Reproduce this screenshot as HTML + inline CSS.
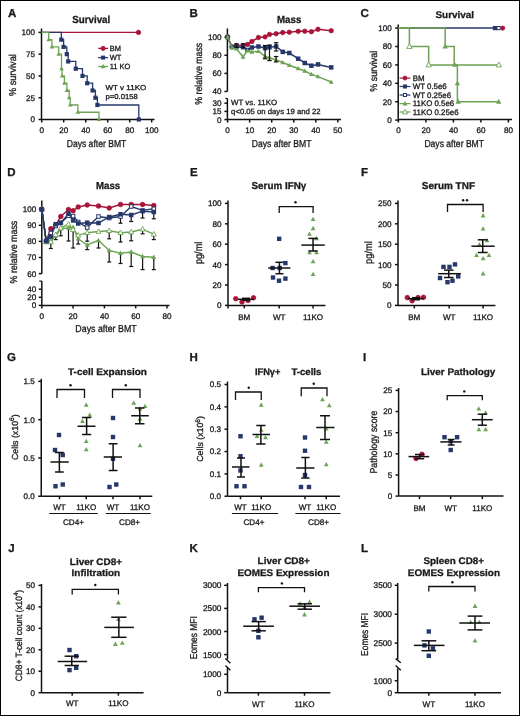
<!DOCTYPE html><html><head><meta charset="utf-8"><style>html,body{margin:0;padding:0;background:#fff;}svg{display:block;will-change:transform;font-family:"Liberation Sans",sans-serif;} text{text-rendering:geometricPrecision;stroke:#1a1a1a;stroke-width:0.3px;}</style></head><body>
<svg width="520" height="716" viewBox="0 0 520 716">
<rect x="0" y="0" width="520" height="716" fill="#fff"/>
<rect x="0.5" y="0.5" width="519" height="715" fill="none" stroke="#000" stroke-width="1"/>
<text x="7.9" y="17.2" font-size="11.5" text-anchor="start" fill="#1a1a1a" font-weight="bold">A</text>
<text x="72.2" y="22.6" font-size="10.3" text-anchor="start" fill="#1a1a1a" font-weight="bold" textLength="38.1" lengthAdjust="spacingAndGlyphs">Survival</text>
<line x1="41.5" y1="28.5" x2="41.5" y2="119.5" stroke="#111" stroke-width="1.5"/>
<line x1="38.5" y1="32.4" x2="41.5" y2="32.4" stroke="#111" stroke-width="1.5"/>
<text x="35.1" y="35.315999999999995" font-size="8.1" text-anchor="end" fill="#1a1a1a">100</text>
<line x1="38.5" y1="54.175" x2="41.5" y2="54.175" stroke="#111" stroke-width="1.5"/>
<text x="35.1" y="57.090999999999994" font-size="8.1" text-anchor="end" fill="#1a1a1a">75</text>
<line x1="38.5" y1="75.94999999999999" x2="41.5" y2="75.94999999999999" stroke="#111" stroke-width="1.5"/>
<text x="35.1" y="78.86599999999999" font-size="8.1" text-anchor="end" fill="#1a1a1a">50</text>
<line x1="38.5" y1="97.725" x2="41.5" y2="97.725" stroke="#111" stroke-width="1.5"/>
<text x="35.1" y="100.64099999999999" font-size="8.1" text-anchor="end" fill="#1a1a1a">25</text>
<line x1="38.5" y1="119.5" x2="41.5" y2="119.5" stroke="#111" stroke-width="1.5"/>
<text x="35.1" y="122.416" font-size="8.1" text-anchor="end" fill="#1a1a1a">0</text>
<line x1="41.5" y1="119.5" x2="154.5" y2="119.5" stroke="#111" stroke-width="1.5"/>
<line x1="41.7" y1="119.5" x2="41.7" y2="122.5" stroke="#111" stroke-width="1.5"/>
<text x="41.7" y="133.2" font-size="8.1" text-anchor="middle" fill="#1a1a1a">0</text>
<line x1="63.7" y1="119.5" x2="63.7" y2="122.5" stroke="#111" stroke-width="1.5"/>
<text x="63.7" y="133.2" font-size="8.1" text-anchor="middle" fill="#1a1a1a">20</text>
<line x1="85.7" y1="119.5" x2="85.7" y2="122.5" stroke="#111" stroke-width="1.5"/>
<text x="85.7" y="133.2" font-size="8.1" text-anchor="middle" fill="#1a1a1a">40</text>
<line x1="107.7" y1="119.5" x2="107.7" y2="122.5" stroke="#111" stroke-width="1.5"/>
<text x="107.7" y="133.2" font-size="8.1" text-anchor="middle" fill="#1a1a1a">60</text>
<line x1="129.7" y1="119.5" x2="129.7" y2="122.5" stroke="#111" stroke-width="1.5"/>
<text x="129.7" y="133.2" font-size="8.1" text-anchor="middle" fill="#1a1a1a">80</text>
<line x1="151.7" y1="119.5" x2="151.7" y2="122.5" stroke="#111" stroke-width="1.5"/>
<text x="151.7" y="133.2" font-size="8.1" text-anchor="middle" fill="#1a1a1a">100</text>
<text transform="translate(15.9,75.15) rotate(-90)" font-size="10" text-anchor="middle" fill="#1a1a1a" textLength="41.9" lengthAdjust="spacingAndGlyphs">% survival</text>
<text x="96.5" y="146.6" font-size="10.1" text-anchor="middle" fill="#1a1a1a" textLength="59.6" lengthAdjust="spacingAndGlyphs">Days after BMT</text>
<polyline points="41.5,32.4 138.5,32.4" fill="none" stroke="#a81538" stroke-width="1.3" stroke-linejoin="miter"/>
<circle cx="138.5" cy="32.4" r="2.2" fill="#a81538" stroke="#a81538" stroke-width="0.8"/>
<polyline points="41.5,32.4 61.3,32.4 61.3,39.655429999999996 63.6,39.655429999999996 63.6,46.91957 66.8,46.91957 66.8,54.175 68.2,54.175 68.2,61.43043 75.8,61.43043 75.8,68.69457 82.5,68.69457 82.5,75.94999999999999 87.2,75.94999999999999 87.2,83.20543 92.6,83.20543 92.6,90.46957 95.4,90.46957 95.4,97.725 97.4,97.725 97.4,104.98042999999998 138.8,104.98042999999998 138.8,119.5" fill="none" stroke="#26386b" stroke-width="1.3" stroke-linejoin="miter"/>
<rect x="59.199999999999996" y="37.555429999999994" width="4.2" height="4.2" fill="#26386b"/>
<rect x="61.5" y="44.81957" width="4.2" height="4.2" fill="#26386b"/>
<rect x="64.7" y="52.074999999999996" width="4.2" height="4.2" fill="#26386b"/>
<rect x="66.10000000000001" y="59.33043" width="4.2" height="4.2" fill="#26386b"/>
<rect x="73.7" y="66.59457" width="4.2" height="4.2" fill="#26386b"/>
<rect x="80.4" y="73.85" width="4.2" height="4.2" fill="#26386b"/>
<rect x="85.10000000000001" y="81.10543000000001" width="4.2" height="4.2" fill="#26386b"/>
<rect x="90.5" y="88.36957000000001" width="4.2" height="4.2" fill="#26386b"/>
<rect x="93.30000000000001" y="95.625" width="4.2" height="4.2" fill="#26386b"/>
<rect x="95.30000000000001" y="102.88042999999999" width="4.2" height="4.2" fill="#26386b"/>
<rect x="136.70000000000002" y="117.4" width="4.2" height="4.2" fill="#26386b"/>
<polyline points="41.5,32.4 48.7,32.4 48.7,39.655429999999996 51.9,39.655429999999996 51.9,46.91957 58.7,46.91957 58.7,54.175 61.5,54.175 61.5,68.69457 62.1,68.69457 62.1,75.94999999999999 64.4,75.94999999999999 64.4,83.20543 66.9,83.20543 66.9,90.46957 69.2,90.46957 69.2,97.725 70.2,97.725 70.2,104.98042999999998 77.9,104.98042999999998 77.9,112.24457000000001 99.0,112.24457000000001 99.0,119.5" fill="none" stroke="#6da353" stroke-width="1.3" stroke-linejoin="miter"/>
<polygon points="48.7,37.225429999999996 46.45,41.27542999999999 50.95,41.27542999999999" fill="#6da353"/>
<polygon points="51.9,44.48957 49.65,48.53957 54.15,48.53957" fill="#6da353"/>
<polygon points="58.7,51.745 56.45,55.794999999999995 60.95,55.794999999999995" fill="#6da353"/>
<polygon points="61.5,66.26456999999999 59.25,70.31457 63.75,70.31457" fill="#6da353"/>
<polygon points="62.1,73.51999999999998 59.85,77.57 64.35,77.57" fill="#6da353"/>
<polygon points="64.4,80.77543 62.150000000000006,84.82543000000001 66.65,84.82543000000001" fill="#6da353"/>
<polygon points="66.9,88.03957 64.65,92.08957000000001 69.15,92.08957000000001" fill="#6da353"/>
<polygon points="69.2,95.29499999999999 66.95,99.345 71.45,99.345" fill="#6da353"/>
<polygon points="70.2,102.55042999999998 67.95,106.60042999999999 72.45,106.60042999999999" fill="#6da353"/>
<polygon points="77.9,109.81457 75.65,113.86457000000001 80.15,113.86457000000001" fill="#6da353"/>
<polygon points="99.0,117.07 96.75,121.12 101.25,121.12" fill="#6da353"/>
<line x1="98.2" y1="48.4" x2="108" y2="48.4" stroke="#a81538" stroke-width="1.3"/>
<circle cx="103.1" cy="48.4" r="2.1" fill="#a81538" stroke="#a81538" stroke-width="0.8"/>
<text x="109.7" y="51.1" font-size="7.5" text-anchor="start" fill="#1a1a1a">BM</text>
<line x1="98.2" y1="57.6" x2="108" y2="57.6" stroke="#26386b" stroke-width="1.3"/>
<rect x="101.1" y="55.6" width="4.0" height="4.0" fill="#26386b"/>
<text x="109.7" y="60.300000000000004" font-size="7.5" text-anchor="start" fill="#1a1a1a">WT</text>
<line x1="98.2" y1="66.5" x2="108" y2="66.5" stroke="#6da353" stroke-width="1.3"/>
<polygon points="103.1,64.016 100.8,68.156 105.39999999999999,68.156" fill="#6da353"/>
<text x="109.7" y="69.2" font-size="7.5" text-anchor="start" fill="#1a1a1a">11 KO</text>
<text x="105.5" y="90.4" font-size="7.2" text-anchor="start" fill="#1a1a1a" textLength="40.8" lengthAdjust="spacingAndGlyphs">WT v 11KO</text>
<text x="105.5" y="98.8" font-size="7.2" text-anchor="start" fill="#1a1a1a" textLength="32.2" lengthAdjust="spacingAndGlyphs">p=0.0158</text>
<text x="189.6" y="17.0" font-size="11.5" text-anchor="start" fill="#1a1a1a" font-weight="bold">B</text>
<text x="277" y="22.9" font-size="10.3" text-anchor="start" fill="#1a1a1a" font-weight="bold" textLength="24.3" lengthAdjust="spacingAndGlyphs">Mass</text>
<line x1="227.4" y1="28.5" x2="227.4" y2="91.5" stroke="#111" stroke-width="1.5"/>
<line x1="224.4" y1="37.2" x2="227.4" y2="37.2" stroke="#111" stroke-width="1.5"/>
<text x="221.6" y="40.1" font-size="8.1" text-anchor="end" fill="#1a1a1a">100</text>
<line x1="224.4" y1="55.300000000000004" x2="227.4" y2="55.300000000000004" stroke="#111" stroke-width="1.5"/>
<text x="221.6" y="58.2" font-size="8.1" text-anchor="end" fill="#1a1a1a">80</text>
<line x1="224.4" y1="73.4" x2="227.4" y2="73.4" stroke="#111" stroke-width="1.5"/>
<text x="221.6" y="76.30000000000001" font-size="8.1" text-anchor="end" fill="#1a1a1a">60</text>
<line x1="224.4" y1="91.5" x2="227.4" y2="91.5" stroke="#111" stroke-width="1.5"/>
<text x="221.6" y="94.4" font-size="8.1" text-anchor="end" fill="#1a1a1a">40</text>
<line x1="227.4" y1="98.4" x2="227.4" y2="119.6" stroke="#111" stroke-width="1.5"/>
<line x1="225.4" y1="98.4" x2="227.4" y2="98.4" stroke="#111" stroke-width="1.2"/>
<line x1="224.4" y1="103.19" x2="227.4" y2="103.19" stroke="#111" stroke-width="1.5"/>
<text x="221.6" y="106.09" font-size="8.1" text-anchor="end" fill="#1a1a1a">30</text>
<line x1="224.4" y1="111.395" x2="227.4" y2="111.395" stroke="#111" stroke-width="1.5"/>
<text x="221.6" y="114.295" font-size="8.1" text-anchor="end" fill="#1a1a1a">15</text>
<line x1="224.4" y1="119.6" x2="227.4" y2="119.6" stroke="#111" stroke-width="1.5"/>
<text x="221.6" y="122.5" font-size="8.1" text-anchor="end" fill="#1a1a1a">0</text>
<line x1="227.4" y1="119.6" x2="341" y2="119.6" stroke="#111" stroke-width="1.5"/>
<line x1="227.6" y1="119.6" x2="227.6" y2="122.6" stroke="#111" stroke-width="1.5"/>
<text x="227.6" y="133.2" font-size="8.1" text-anchor="middle" fill="#1a1a1a">0</text>
<line x1="249.65" y1="119.6" x2="249.65" y2="122.6" stroke="#111" stroke-width="1.5"/>
<text x="249.65" y="133.2" font-size="8.1" text-anchor="middle" fill="#1a1a1a">10</text>
<line x1="271.7" y1="119.6" x2="271.7" y2="122.6" stroke="#111" stroke-width="1.5"/>
<text x="271.7" y="133.2" font-size="8.1" text-anchor="middle" fill="#1a1a1a">20</text>
<line x1="293.75" y1="119.6" x2="293.75" y2="122.6" stroke="#111" stroke-width="1.5"/>
<text x="293.75" y="133.2" font-size="8.1" text-anchor="middle" fill="#1a1a1a">30</text>
<line x1="315.8" y1="119.6" x2="315.8" y2="122.6" stroke="#111" stroke-width="1.5"/>
<text x="315.8" y="133.2" font-size="8.1" text-anchor="middle" fill="#1a1a1a">40</text>
<line x1="337.85" y1="119.6" x2="337.85" y2="122.6" stroke="#111" stroke-width="1.5"/>
<text x="337.85" y="133.2" font-size="8.1" text-anchor="middle" fill="#1a1a1a">50</text>
<text transform="translate(202.3,73.75) rotate(-90)" font-size="10" text-anchor="middle" fill="#1a1a1a" textLength="61.9" lengthAdjust="spacingAndGlyphs">% relative mass</text>
<text x="281.6" y="147" font-size="10.1" text-anchor="middle" fill="#1a1a1a" textLength="59.6" lengthAdjust="spacingAndGlyphs">Days after BMT</text>
<text x="231.1" y="105.3" font-size="7.6" text-anchor="start" fill="#1a1a1a" textLength="46" lengthAdjust="spacingAndGlyphs">WT vs. 11KO</text>
<text x="231.1" y="113.9" font-size="7.6" text-anchor="start" fill="#1a1a1a" textLength="89.4" lengthAdjust="spacingAndGlyphs">q&lt;0.05 on days 19 and 22</text>
<polyline points="227.6,37.1 232.01,47.0 236.42,45.6 243.035,45.6 247.445,44.4 251.855,41.5 258.46999999999997,37.5 265.085,36.9 269.495,34.4 276.11,33.75 282.725,32.5 289.34,32.2 298.15999999999997,31.3 304.775,31.2 311.39,31.7 318.005,29.3 331.235,30.7" fill="none" stroke="#a81538" stroke-width="1.5" stroke-linejoin="miter"/>
<circle cx="227.6" cy="37.1" r="2.2" fill="#a81538" stroke="#a81538" stroke-width="0.8"/>
<circle cx="232.01" cy="47.0" r="2.2" fill="#a81538" stroke="#a81538" stroke-width="0.8"/>
<circle cx="236.42" cy="45.6" r="2.2" fill="#a81538" stroke="#a81538" stroke-width="0.8"/>
<circle cx="243.035" cy="45.6" r="2.2" fill="#a81538" stroke="#a81538" stroke-width="0.8"/>
<circle cx="247.445" cy="44.4" r="2.2" fill="#a81538" stroke="#a81538" stroke-width="0.8"/>
<circle cx="251.855" cy="41.5" r="2.2" fill="#a81538" stroke="#a81538" stroke-width="0.8"/>
<circle cx="258.46999999999997" cy="37.5" r="2.2" fill="#a81538" stroke="#a81538" stroke-width="0.8"/>
<circle cx="265.085" cy="36.9" r="2.2" fill="#a81538" stroke="#a81538" stroke-width="0.8"/>
<circle cx="269.495" cy="34.4" r="2.2" fill="#a81538" stroke="#a81538" stroke-width="0.8"/>
<circle cx="276.11" cy="33.75" r="2.2" fill="#a81538" stroke="#a81538" stroke-width="0.8"/>
<circle cx="282.725" cy="32.5" r="2.2" fill="#a81538" stroke="#a81538" stroke-width="0.8"/>
<circle cx="289.34" cy="32.2" r="2.2" fill="#a81538" stroke="#a81538" stroke-width="0.8"/>
<circle cx="298.15999999999997" cy="31.3" r="2.2" fill="#a81538" stroke="#a81538" stroke-width="0.8"/>
<circle cx="304.775" cy="31.2" r="2.2" fill="#a81538" stroke="#a81538" stroke-width="0.8"/>
<circle cx="311.39" cy="31.7" r="2.2" fill="#a81538" stroke="#a81538" stroke-width="0.8"/>
<circle cx="318.005" cy="29.3" r="2.2" fill="#a81538" stroke="#a81538" stroke-width="0.8"/>
<circle cx="331.235" cy="30.7" r="2.2" fill="#a81538" stroke="#a81538" stroke-width="0.8"/>
<polyline points="227.6,37.1 232.01,46.9 236.42,47.0 243.035,47.2 247.445,50.0 251.855,47.5 258.46999999999997,46.5 265.085,48.1 269.495,47.25 276.11,46.5 282.725,51.9 289.34,53.0 298.15999999999997,58.7 304.775,63.0 311.39,65.7 318.005,64.4 331.235,67.4" fill="none" stroke="#26386b" stroke-width="1.5" stroke-linejoin="miter"/>
<rect x="225.35" y="34.85" width="4.5" height="4.5" fill="#26386b"/>
<rect x="229.76" y="44.65" width="4.5" height="4.5" fill="#26386b"/>
<rect x="234.17" y="44.75" width="4.5" height="4.5" fill="#26386b"/>
<rect x="240.785" y="44.95" width="4.5" height="4.5" fill="#26386b"/>
<rect x="245.195" y="47.75" width="4.5" height="4.5" fill="#26386b"/>
<rect x="249.605" y="45.25" width="4.5" height="4.5" fill="#26386b"/>
<rect x="256.21999999999997" y="44.25" width="4.5" height="4.5" fill="#26386b"/>
<rect x="262.835" y="45.85" width="4.5" height="4.5" fill="#26386b"/>
<rect x="267.245" y="45.0" width="4.5" height="4.5" fill="#26386b"/>
<rect x="273.86" y="44.25" width="4.5" height="4.5" fill="#26386b"/>
<rect x="280.475" y="49.65" width="4.5" height="4.5" fill="#26386b"/>
<rect x="287.09" y="50.75" width="4.5" height="4.5" fill="#26386b"/>
<rect x="295.90999999999997" y="56.45" width="4.5" height="4.5" fill="#26386b"/>
<rect x="302.525" y="60.75" width="4.5" height="4.5" fill="#26386b"/>
<rect x="309.14" y="63.45" width="4.5" height="4.5" fill="#26386b"/>
<rect x="315.755" y="62.150000000000006" width="4.5" height="4.5" fill="#26386b"/>
<rect x="328.985" y="65.15" width="4.5" height="4.5" fill="#26386b"/>
<polyline points="227.6,37.1 232.01,47.5 236.42,48.75 243.035,56.9 247.445,50.6 251.855,51.9 258.46999999999997,51.25 265.085,56.25 269.495,57.75 276.11,60.0 282.725,62.5 289.34,65.3 298.15999999999997,68.5 304.775,71.0 311.39,74.3 318.005,76.6 331.235,82.0" fill="none" stroke="#6da353" stroke-width="1.5" stroke-linejoin="miter"/>
<polygon points="227.6,34.508 225.2,38.828 230.0,38.828" fill="#6da353"/>
<polygon points="232.01,44.908 229.60999999999999,49.228 234.41,49.228" fill="#6da353"/>
<polygon points="236.42,46.158 234.01999999999998,50.478 238.82,50.478" fill="#6da353"/>
<polygon points="243.035,54.308 240.635,58.628 245.435,58.628" fill="#6da353"/>
<polygon points="247.445,48.008 245.045,52.328 249.845,52.328" fill="#6da353"/>
<polygon points="251.855,49.308 249.45499999999998,53.628 254.255,53.628" fill="#6da353"/>
<polygon points="258.46999999999997,48.658 256.07,52.978 260.86999999999995,52.978" fill="#6da353"/>
<polygon points="265.085,53.658 262.685,57.978 267.48499999999996,57.978" fill="#6da353"/>
<polygon points="269.495,55.158 267.095,59.478 271.895,59.478" fill="#6da353"/>
<polygon points="276.11,57.408 273.71000000000004,61.728 278.51,61.728" fill="#6da353"/>
<polygon points="282.725,59.908 280.32500000000005,64.228 285.125,64.228" fill="#6da353"/>
<polygon points="289.34,62.708 286.94,67.02799999999999 291.73999999999995,67.02799999999999" fill="#6da353"/>
<polygon points="298.15999999999997,65.908 295.76,70.228 300.55999999999995,70.228" fill="#6da353"/>
<polygon points="304.775,68.408 302.375,72.728 307.17499999999995,72.728" fill="#6da353"/>
<polygon points="311.39,71.708 308.99,76.02799999999999 313.78999999999996,76.02799999999999" fill="#6da353"/>
<polygon points="318.005,74.008 315.605,78.32799999999999 320.405,78.32799999999999" fill="#6da353"/>
<polygon points="331.235,79.408 328.83500000000004,83.728 333.635,83.728" fill="#6da353"/>
<line x1="236.42" y1="43.75" x2="236.42" y2="47.5" stroke="#111" stroke-width="1.1"/>
<line x1="234.22" y1="43.75" x2="238.61999999999998" y2="43.75" stroke="#111" stroke-width="1.1"/>
<line x1="234.22" y1="47.5" x2="238.61999999999998" y2="47.5" stroke="#111" stroke-width="1.1"/>
<line x1="243.035" y1="43.75" x2="243.035" y2="47.5" stroke="#111" stroke-width="1.1"/>
<line x1="240.835" y1="43.75" x2="245.23499999999999" y2="43.75" stroke="#111" stroke-width="1.1"/>
<line x1="240.835" y1="47.5" x2="245.23499999999999" y2="47.5" stroke="#111" stroke-width="1.1"/>
<line x1="265.085" y1="45.5" x2="265.085" y2="58.75" stroke="#111" stroke-width="1.2"/>
<line x1="262.885" y1="45.5" x2="267.28499999999997" y2="45.5" stroke="#111" stroke-width="1.2"/>
<line x1="262.885" y1="58.75" x2="267.28499999999997" y2="58.75" stroke="#111" stroke-width="1.2"/>
<line x1="269.495" y1="45.0" x2="269.495" y2="60.6" stroke="#111" stroke-width="1.2"/>
<line x1="267.295" y1="45.0" x2="271.695" y2="45.0" stroke="#111" stroke-width="1.2"/>
<line x1="267.295" y1="60.6" x2="271.695" y2="60.6" stroke="#111" stroke-width="1.2"/>
<line x1="276.11" y1="42.75" x2="276.11" y2="51.0" stroke="#111" stroke-width="1.2"/>
<line x1="273.91" y1="42.75" x2="278.31" y2="42.75" stroke="#111" stroke-width="1.2"/>
<line x1="273.91" y1="51.0" x2="278.31" y2="51.0" stroke="#111" stroke-width="1.2"/>
<line x1="276.11" y1="56.5" x2="276.11" y2="61.9" stroke="#111" stroke-width="1.2"/>
<line x1="273.91" y1="56.5" x2="278.31" y2="56.5" stroke="#111" stroke-width="1.2"/>
<line x1="273.91" y1="61.9" x2="278.31" y2="61.9" stroke="#111" stroke-width="1.2"/>
<text x="360.5" y="17.2" font-size="11.5" text-anchor="start" fill="#1a1a1a" font-weight="bold">C</text>
<text x="435.5" y="17.8" font-size="9.6" text-anchor="start" fill="#1a1a1a" font-weight="bold" textLength="38.6" lengthAdjust="spacingAndGlyphs">Survival</text>
<line x1="398.2" y1="24.5" x2="398.2" y2="119.5" stroke="#111" stroke-width="1.5"/>
<line x1="395.2" y1="28.1" x2="398.2" y2="28.1" stroke="#111" stroke-width="1.5"/>
<text x="391.8" y="31.016000000000002" font-size="8.1" text-anchor="end" fill="#1a1a1a">100</text>
<line x1="395.2" y1="46.5" x2="398.2" y2="46.5" stroke="#111" stroke-width="1.5"/>
<text x="391.8" y="49.416" font-size="8.1" text-anchor="end" fill="#1a1a1a">80</text>
<line x1="395.2" y1="64.9" x2="398.2" y2="64.9" stroke="#111" stroke-width="1.5"/>
<text x="391.8" y="67.816" font-size="8.1" text-anchor="end" fill="#1a1a1a">60</text>
<line x1="395.2" y1="83.30000000000001" x2="398.2" y2="83.30000000000001" stroke="#111" stroke-width="1.5"/>
<text x="391.8" y="86.21600000000001" font-size="8.1" text-anchor="end" fill="#1a1a1a">40</text>
<line x1="395.2" y1="101.70000000000002" x2="398.2" y2="101.70000000000002" stroke="#111" stroke-width="1.5"/>
<text x="391.8" y="104.61600000000001" font-size="8.1" text-anchor="end" fill="#1a1a1a">20</text>
<line x1="395.2" y1="120.1" x2="398.2" y2="120.1" stroke="#111" stroke-width="1.5"/>
<text x="391.8" y="123.01599999999999" font-size="8.1" text-anchor="end" fill="#1a1a1a">0</text>
<line x1="398.2" y1="119.5" x2="512" y2="119.5" stroke="#111" stroke-width="1.5"/>
<line x1="398.4" y1="119.5" x2="398.4" y2="122.5" stroke="#111" stroke-width="1.5"/>
<text x="398.4" y="133.4" font-size="8.1" text-anchor="middle" fill="#1a1a1a">0</text>
<line x1="425.9" y1="119.5" x2="425.9" y2="122.5" stroke="#111" stroke-width="1.5"/>
<text x="425.9" y="133.4" font-size="8.1" text-anchor="middle" fill="#1a1a1a">20</text>
<line x1="453.4" y1="119.5" x2="453.4" y2="122.5" stroke="#111" stroke-width="1.5"/>
<text x="453.4" y="133.4" font-size="8.1" text-anchor="middle" fill="#1a1a1a">40</text>
<line x1="480.9" y1="119.5" x2="480.9" y2="122.5" stroke="#111" stroke-width="1.5"/>
<text x="480.9" y="133.4" font-size="8.1" text-anchor="middle" fill="#1a1a1a">60</text>
<line x1="508.4" y1="119.5" x2="508.4" y2="122.5" stroke="#111" stroke-width="1.5"/>
<text x="508.4" y="133.4" font-size="8.1" text-anchor="middle" fill="#1a1a1a">80</text>
<text transform="translate(377.4,71.3) rotate(-90)" font-size="10" text-anchor="middle" fill="#1a1a1a" textLength="41" lengthAdjust="spacingAndGlyphs">% survival</text>
<text x="454.2" y="147.2" font-size="10.1" text-anchor="middle" fill="#1a1a1a" textLength="59.6" lengthAdjust="spacingAndGlyphs">Days after BMT</text>
<polyline points="398.2,28.1 494.9,28.1" fill="none" stroke="#26386b" stroke-width="1.5" stroke-linejoin="miter"/>
<polyline points="398.2,28.1 409.4,28.1 409.4,46.5 428.65,46.5 428.65,64.9 498.775,64.9" fill="none" stroke="#6da353" stroke-width="1.5" stroke-linejoin="miter"/>
<polyline points="398.2,28.1 445.15,28.1 445.15,46.5 454.22499999999997,46.5 454.22499999999997,64.9 457.3875,64.9 457.3875,101.70000000000002 498.775,101.70000000000002" fill="none" stroke="#6da353" stroke-width="1.5" stroke-linejoin="miter"/>
<polygon points="409.4,43.584 406.7,48.444 412.09999999999997,48.444" fill="#fff" stroke="#6da353" stroke-width="0.9"/>
<polygon points="428.65,61.98400000000001 425.95,66.84400000000001 431.34999999999997,66.84400000000001" fill="#fff" stroke="#6da353" stroke-width="0.9"/>
<polygon points="498.775,61.98400000000001 496.075,66.84400000000001 501.47499999999997,66.84400000000001" fill="#fff" stroke="#6da353" stroke-width="0.9"/>
<polygon points="445.15,43.584 442.45,48.444 447.84999999999997,48.444" fill="#6da353"/>
<polygon points="454.775,61.98400000000001 452.075,66.84400000000001 457.47499999999997,66.84400000000001" fill="#6da353"/>
<polygon points="457.3875,80.38400000000001 454.6875,85.24400000000001 460.0875,85.24400000000001" fill="#6da353"/>
<polygon points="458.2125,98.78400000000002 455.5125,103.64400000000002 460.91249999999997,103.64400000000002" fill="#6da353"/>
<polygon points="498.775,98.78400000000002 496.075,103.64400000000002 501.47499999999997,103.64400000000002" fill="#6da353"/>
<rect x="492.79999999999995" y="26.0" width="4.2" height="4.2" fill="#26386b"/>
<rect x="497.0" y="26.5" width="3.2" height="3.2" fill="#fff" stroke="#26386b" stroke-width="1"/>
<circle cx="502.7" cy="28.1" r="2.1" fill="#a81538" stroke="#a81538" stroke-width="0.8"/>
<line x1="399.6" y1="78.1" x2="410.4" y2="78.1" stroke="#a81538" stroke-width="1.2"/>
<circle cx="405" cy="78.1" r="2.0" fill="#a81538" stroke="#a81538" stroke-width="0.8"/>
<text x="412.7" y="80.69999999999999" font-size="7.9" text-anchor="start" fill="#1a1a1a">BM</text>
<line x1="399.6" y1="86.5" x2="410.4" y2="86.5" stroke="#26386b" stroke-width="1.2"/>
<rect x="403.0" y="84.5" width="4.0" height="4.0" fill="#26386b"/>
<text x="412.7" y="89.1" font-size="7.9" text-anchor="start" fill="#1a1a1a">WT 0.5e6</text>
<line x1="399.6" y1="95.0" x2="410.4" y2="95.0" stroke="#26386b" stroke-width="1.2"/>
<rect x="403.5" y="93.5" width="3.0" height="3.0" fill="#fff" stroke="#26386b" stroke-width="1"/>
<text x="412.7" y="97.6" font-size="7.9" text-anchor="start" fill="#1a1a1a">WT 0.25e6</text>
<line x1="399.6" y1="103.6" x2="410.4" y2="103.6" stroke="#6da353" stroke-width="1.2"/>
<polygon points="405,100.89999999999999 402.5,105.39999999999999 407.5,105.39999999999999" fill="#6da353"/>
<text x="412.7" y="106.19999999999999" font-size="7.9" text-anchor="start" fill="#1a1a1a">11KO 0.5e6</text>
<line x1="399.6" y1="112.0" x2="410.4" y2="112.0" stroke="#6da353" stroke-width="1.2"/>
<polygon points="405,109.3 402.5,113.8 407.5,113.8" fill="#fff" stroke="#6da353" stroke-width="0.9"/>
<text x="412.7" y="114.6" font-size="7.9" text-anchor="start" fill="#1a1a1a">11KO 0.25e6</text>
<text x="7.2" y="175.5" font-size="11.5" text-anchor="start" fill="#1a1a1a" font-weight="bold">D</text>
<text x="96.1" y="189.2" font-size="10.1" text-anchor="start" fill="#1a1a1a" font-weight="bold" textLength="24.1" lengthAdjust="spacingAndGlyphs">Mass</text>
<line x1="41.8" y1="200.4" x2="41.8" y2="273.8" stroke="#111" stroke-width="1.5"/>
<line x1="38.8" y1="209.2" x2="41.8" y2="209.2" stroke="#111" stroke-width="1.5"/>
<text x="36.2" y="212.1" font-size="8.1" text-anchor="end" fill="#1a1a1a">100</text>
<line x1="38.8" y1="225.29999999999998" x2="41.8" y2="225.29999999999998" stroke="#111" stroke-width="1.5"/>
<text x="36.2" y="228.2" font-size="8.1" text-anchor="end" fill="#1a1a1a">90</text>
<line x1="38.8" y1="241.39999999999998" x2="41.8" y2="241.39999999999998" stroke="#111" stroke-width="1.5"/>
<text x="36.2" y="244.29999999999998" font-size="8.1" text-anchor="end" fill="#1a1a1a">80</text>
<line x1="38.8" y1="257.5" x2="41.8" y2="257.5" stroke="#111" stroke-width="1.5"/>
<text x="36.2" y="260.4" font-size="8.1" text-anchor="end" fill="#1a1a1a">70</text>
<line x1="38.8" y1="273.6" x2="41.8" y2="273.6" stroke="#111" stroke-width="1.5"/>
<text x="36.2" y="276.5" font-size="8.1" text-anchor="end" fill="#1a1a1a">60</text>
<line x1="41.8" y1="281.1" x2="41.8" y2="305.4" stroke="#111" stroke-width="1.5"/>
<line x1="39.3" y1="281.1" x2="41.8" y2="281.1" stroke="#111" stroke-width="1.2"/>
<line x1="38.8" y1="289.2" x2="41.8" y2="289.2" stroke="#111" stroke-width="1.5"/>
<text x="36.2" y="292.09999999999997" font-size="8.1" text-anchor="end" fill="#1a1a1a">40</text>
<line x1="38.8" y1="297.29999999999995" x2="41.8" y2="297.29999999999995" stroke="#111" stroke-width="1.5"/>
<text x="36.2" y="300.19999999999993" font-size="8.1" text-anchor="end" fill="#1a1a1a">20</text>
<line x1="38.8" y1="305.4" x2="41.8" y2="305.4" stroke="#111" stroke-width="1.5"/>
<text x="36.2" y="308.29999999999995" font-size="8.1" text-anchor="end" fill="#1a1a1a">0</text>
<line x1="41.8" y1="305.4" x2="169.5" y2="305.4" stroke="#111" stroke-width="1.5"/>
<line x1="41.8" y1="305.4" x2="41.8" y2="308.4" stroke="#111" stroke-width="1.5"/>
<text x="41.8" y="319.1" font-size="8.1" text-anchor="middle" fill="#1a1a1a">0</text>
<line x1="73.1" y1="305.4" x2="73.1" y2="308.4" stroke="#111" stroke-width="1.5"/>
<text x="73.1" y="319.1" font-size="8.1" text-anchor="middle" fill="#1a1a1a">20</text>
<line x1="104.39999999999999" y1="305.4" x2="104.39999999999999" y2="308.4" stroke="#111" stroke-width="1.5"/>
<text x="104.39999999999999" y="319.1" font-size="8.1" text-anchor="middle" fill="#1a1a1a">40</text>
<line x1="135.7" y1="305.4" x2="135.7" y2="308.4" stroke="#111" stroke-width="1.5"/>
<text x="135.7" y="319.1" font-size="8.1" text-anchor="middle" fill="#1a1a1a">60</text>
<line x1="167.0" y1="305.4" x2="167.0" y2="308.4" stroke="#111" stroke-width="1.5"/>
<text x="167.0" y="319.1" font-size="8.1" text-anchor="middle" fill="#1a1a1a">80</text>
<text transform="translate(17.4,252.1) rotate(-90)" font-size="10" text-anchor="middle" fill="#1a1a1a" textLength="62.8" lengthAdjust="spacingAndGlyphs">% relative mass</text>
<text x="106" y="332" font-size="10.1" text-anchor="middle" fill="#1a1a1a" textLength="61.3" lengthAdjust="spacingAndGlyphs">Days after BMT</text>
<line x1="50.8" y1="242" x2="50.8" y2="248.5" stroke="#111" stroke-width="1.2"/>
<line x1="48.8" y1="248.5" x2="52.8" y2="248.5" stroke="#111" stroke-width="1.2"/>
<line x1="55.7" y1="234.7" x2="55.7" y2="239.6" stroke="#111" stroke-width="1.2"/>
<line x1="53.7" y1="239.6" x2="57.7" y2="239.6" stroke="#111" stroke-width="1.2"/>
<line x1="60.8" y1="228" x2="60.8" y2="235.8" stroke="#111" stroke-width="1.2"/>
<line x1="58.8" y1="235.8" x2="62.8" y2="235.8" stroke="#111" stroke-width="1.2"/>
<line x1="68.5" y1="224.2" x2="68.5" y2="241" stroke="#111" stroke-width="1.2"/>
<line x1="66.5" y1="241" x2="70.5" y2="241" stroke="#111" stroke-width="1.2"/>
<line x1="73.1" y1="229.6" x2="73.1" y2="248" stroke="#111" stroke-width="1.2"/>
<line x1="71.1" y1="248" x2="75.1" y2="248" stroke="#111" stroke-width="1.2"/>
<line x1="87.2" y1="232.7" x2="87.2" y2="241.2" stroke="#111" stroke-width="1.2"/>
<line x1="85.2" y1="241.2" x2="89.2" y2="241.2" stroke="#111" stroke-width="1.2"/>
<line x1="87.2" y1="245" x2="87.2" y2="249.6" stroke="#111" stroke-width="1.2"/>
<line x1="85.2" y1="249.6" x2="89.2" y2="249.6" stroke="#111" stroke-width="1.2"/>
<line x1="109.2" y1="230.7" x2="109.2" y2="238.8" stroke="#111" stroke-width="1.2"/>
<line x1="107.2" y1="238.8" x2="111.2" y2="238.8" stroke="#111" stroke-width="1.2"/>
<line x1="120.5" y1="232.7" x2="120.5" y2="242" stroke="#111" stroke-width="1.2"/>
<line x1="118.5" y1="242" x2="122.5" y2="242" stroke="#111" stroke-width="1.2"/>
<line x1="131.2" y1="232" x2="131.2" y2="240.8" stroke="#111" stroke-width="1.2"/>
<line x1="129.2" y1="240.8" x2="133.2" y2="240.8" stroke="#111" stroke-width="1.2"/>
<line x1="142.6" y1="229.2" x2="142.6" y2="233.8" stroke="#111" stroke-width="1.2"/>
<line x1="140.6" y1="233.8" x2="144.6" y2="233.8" stroke="#111" stroke-width="1.2"/>
<line x1="153.8" y1="234.2" x2="153.8" y2="239.6" stroke="#111" stroke-width="1.2"/>
<line x1="151.8" y1="239.6" x2="155.8" y2="239.6" stroke="#111" stroke-width="1.2"/>
<line x1="98.5" y1="240.4" x2="98.5" y2="248" stroke="#111" stroke-width="1.2"/>
<line x1="96.5" y1="248" x2="100.5" y2="248" stroke="#111" stroke-width="1.2"/>
<line x1="109.2" y1="250.4" x2="109.2" y2="262" stroke="#111" stroke-width="1.2"/>
<line x1="107.2" y1="262" x2="111.2" y2="262" stroke="#111" stroke-width="1.2"/>
<line x1="120.5" y1="253.2" x2="120.5" y2="263.5" stroke="#111" stroke-width="1.2"/>
<line x1="118.5" y1="263.5" x2="122.5" y2="263.5" stroke="#111" stroke-width="1.2"/>
<line x1="131.2" y1="252" x2="131.2" y2="266.5" stroke="#111" stroke-width="1.2"/>
<line x1="129.2" y1="266.5" x2="133.2" y2="266.5" stroke="#111" stroke-width="1.2"/>
<line x1="142.6" y1="256.5" x2="142.6" y2="269.6" stroke="#111" stroke-width="1.2"/>
<line x1="140.6" y1="269.6" x2="144.6" y2="269.6" stroke="#111" stroke-width="1.2"/>
<line x1="153.8" y1="257.3" x2="153.8" y2="269.6" stroke="#111" stroke-width="1.2"/>
<line x1="151.8" y1="269.6" x2="155.8" y2="269.6" stroke="#111" stroke-width="1.2"/>
<line x1="120.5" y1="214.2" x2="120.5" y2="223.2" stroke="#111" stroke-width="1.2"/>
<line x1="118.5" y1="223.2" x2="122.5" y2="223.2" stroke="#111" stroke-width="1.2"/>
<line x1="131.2" y1="215" x2="131.2" y2="221.5" stroke="#111" stroke-width="1.2"/>
<line x1="129.2" y1="221.5" x2="133.2" y2="221.5" stroke="#111" stroke-width="1.2"/>
<line x1="142.6" y1="211.2" x2="142.6" y2="218" stroke="#111" stroke-width="1.2"/>
<line x1="140.6" y1="218" x2="144.6" y2="218" stroke="#111" stroke-width="1.2"/>
<line x1="153.8" y1="212" x2="153.8" y2="218.8" stroke="#111" stroke-width="1.2"/>
<line x1="151.8" y1="218.8" x2="155.8" y2="218.8" stroke="#111" stroke-width="1.2"/>
<line x1="78.2" y1="238.8" x2="78.2" y2="244" stroke="#111" stroke-width="1.2"/>
<line x1="76.2" y1="244" x2="80.2" y2="244" stroke="#111" stroke-width="1.2"/>
<polyline points="41.8,209.2 46.2,241 50.8,228.8 55.7,225 60.8,216.5 68.5,209.6 73.1,210.7 78.2,207 87.2,205 98.5,206 109.2,208 120.5,204.5 131.2,204.5 142.6,204.5 153.8,205.5" fill="none" stroke="#a81538" stroke-width="1.4" stroke-linejoin="miter"/>
<circle cx="41.8" cy="209.2" r="2.3" fill="#a81538" stroke="#a81538" stroke-width="0.8"/>
<circle cx="46.2" cy="241" r="2.3" fill="#a81538" stroke="#a81538" stroke-width="0.8"/>
<circle cx="50.8" cy="228.8" r="2.3" fill="#a81538" stroke="#a81538" stroke-width="0.8"/>
<circle cx="55.7" cy="225" r="2.3" fill="#a81538" stroke="#a81538" stroke-width="0.8"/>
<circle cx="60.8" cy="216.5" r="2.3" fill="#a81538" stroke="#a81538" stroke-width="0.8"/>
<circle cx="68.5" cy="209.6" r="2.3" fill="#a81538" stroke="#a81538" stroke-width="0.8"/>
<circle cx="73.1" cy="210.7" r="2.3" fill="#a81538" stroke="#a81538" stroke-width="0.8"/>
<circle cx="78.2" cy="207" r="2.3" fill="#a81538" stroke="#a81538" stroke-width="0.8"/>
<circle cx="87.2" cy="205" r="2.3" fill="#a81538" stroke="#a81538" stroke-width="0.8"/>
<circle cx="98.5" cy="206" r="2.3" fill="#a81538" stroke="#a81538" stroke-width="0.8"/>
<circle cx="109.2" cy="208" r="2.3" fill="#a81538" stroke="#a81538" stroke-width="0.8"/>
<circle cx="120.5" cy="204.5" r="2.3" fill="#a81538" stroke="#a81538" stroke-width="0.8"/>
<circle cx="131.2" cy="204.5" r="2.3" fill="#a81538" stroke="#a81538" stroke-width="0.8"/>
<circle cx="142.6" cy="204.5" r="2.3" fill="#a81538" stroke="#a81538" stroke-width="0.8"/>
<circle cx="153.8" cy="205.5" r="2.3" fill="#a81538" stroke="#a81538" stroke-width="0.8"/>
<polyline points="41.8,209.2 46.2,242 50.8,240 55.7,236 60.8,228.5 68.5,228 73.1,227.3 78.2,238.8 87.2,245 98.5,240.4 109.2,250.4 120.5,253.2 131.2,252 142.6,256.5 153.8,257.3" fill="none" stroke="#6da353" stroke-width="1.4" stroke-linejoin="miter"/>
<polyline points="41.8,209.2 46.2,242 50.8,242 55.7,234.7 60.8,228 68.5,224.2 73.1,229.6 78.2,235.3 87.2,232.7 98.5,231.5 109.2,230.7 120.5,232.7 131.2,232 142.6,229.2 153.8,234.2" fill="none" stroke="#6da353" stroke-width="1.4" stroke-linejoin="miter"/>
<polygon points="41.8,206.5 39.3,211.0 44.3,211.0" fill="#6da353"/>
<polygon points="46.2,239.3 43.7,243.8 48.7,243.8" fill="#6da353"/>
<polygon points="50.8,237.3 48.3,241.8 53.3,241.8" fill="#6da353"/>
<polygon points="55.7,233.3 53.2,237.8 58.2,237.8" fill="#6da353"/>
<polygon points="60.8,225.8 58.3,230.3 63.3,230.3" fill="#6da353"/>
<polygon points="68.5,225.3 66.0,229.8 71.0,229.8" fill="#6da353"/>
<polygon points="73.1,224.60000000000002 70.6,229.10000000000002 75.6,229.10000000000002" fill="#6da353"/>
<polygon points="78.2,236.10000000000002 75.7,240.60000000000002 80.7,240.60000000000002" fill="#6da353"/>
<polygon points="87.2,242.3 84.7,246.8 89.7,246.8" fill="#6da353"/>
<polygon points="98.5,237.70000000000002 96.0,242.20000000000002 101.0,242.20000000000002" fill="#6da353"/>
<polygon points="109.2,247.70000000000002 106.7,252.20000000000002 111.7,252.20000000000002" fill="#6da353"/>
<polygon points="120.5,250.5 118.0,255.0 123.0,255.0" fill="#6da353"/>
<polygon points="131.2,249.3 128.7,253.8 133.7,253.8" fill="#6da353"/>
<polygon points="142.6,253.8 140.1,258.3 145.1,258.3" fill="#6da353"/>
<polygon points="153.8,254.60000000000002 151.3,259.1 156.3,259.1" fill="#6da353"/>
<polygon points="41.8,206.5 39.3,211.0 44.3,211.0" fill="#fff" stroke="#6da353" stroke-width="0.9"/>
<polygon points="46.2,239.3 43.7,243.8 48.7,243.8" fill="#fff" stroke="#6da353" stroke-width="0.9"/>
<polygon points="50.8,239.3 48.3,243.8 53.3,243.8" fill="#fff" stroke="#6da353" stroke-width="0.9"/>
<polygon points="55.7,232.0 53.2,236.5 58.2,236.5" fill="#fff" stroke="#6da353" stroke-width="0.9"/>
<polygon points="60.8,225.3 58.3,229.8 63.3,229.8" fill="#fff" stroke="#6da353" stroke-width="0.9"/>
<polygon points="68.5,221.5 66.0,226.0 71.0,226.0" fill="#fff" stroke="#6da353" stroke-width="0.9"/>
<polygon points="73.1,226.9 70.6,231.4 75.6,231.4" fill="#fff" stroke="#6da353" stroke-width="0.9"/>
<polygon points="78.2,232.60000000000002 75.7,237.10000000000002 80.7,237.10000000000002" fill="#fff" stroke="#6da353" stroke-width="0.9"/>
<polygon points="87.2,230.0 84.7,234.5 89.7,234.5" fill="#fff" stroke="#6da353" stroke-width="0.9"/>
<polygon points="98.5,228.8 96.0,233.3 101.0,233.3" fill="#fff" stroke="#6da353" stroke-width="0.9"/>
<polygon points="109.2,228.0 106.7,232.5 111.7,232.5" fill="#fff" stroke="#6da353" stroke-width="0.9"/>
<polygon points="120.5,230.0 118.0,234.5 123.0,234.5" fill="#fff" stroke="#6da353" stroke-width="0.9"/>
<polygon points="131.2,229.3 128.7,233.8 133.7,233.8" fill="#fff" stroke="#6da353" stroke-width="0.9"/>
<polygon points="142.6,226.5 140.1,231.0 145.1,231.0" fill="#fff" stroke="#6da353" stroke-width="0.9"/>
<polygon points="153.8,231.5 151.3,236.0 156.3,236.0" fill="#fff" stroke="#6da353" stroke-width="0.9"/>
<polyline points="41.8,209.2 46.2,241 50.8,233 55.7,226 60.8,223 68.5,215.8 73.1,216 78.2,222 87.2,227.6 98.5,216.5 109.2,218 120.5,216.5 131.2,206.5 142.6,210.4 153.8,208.8" fill="none" stroke="#26386b" stroke-width="1.4" stroke-linejoin="miter"/>
<polyline points="41.8,209.2 46.2,241 50.8,236.5 55.7,224.2 60.8,222.7 68.5,213.8 73.1,220.4 78.2,223.5 87.2,222.7 98.5,223 109.2,217 120.5,214.2 131.2,215 142.6,211.2 153.8,212" fill="none" stroke="#26386b" stroke-width="1.4" stroke-linejoin="miter"/>
<rect x="40.05" y="207.45" width="3.5" height="3.5" fill="#fff" stroke="#26386b" stroke-width="1"/>
<rect x="44.45" y="239.25" width="3.5" height="3.5" fill="#fff" stroke="#26386b" stroke-width="1"/>
<rect x="49.05" y="231.25" width="3.5" height="3.5" fill="#fff" stroke="#26386b" stroke-width="1"/>
<rect x="53.95" y="224.25" width="3.5" height="3.5" fill="#fff" stroke="#26386b" stroke-width="1"/>
<rect x="59.05" y="221.25" width="3.5" height="3.5" fill="#fff" stroke="#26386b" stroke-width="1"/>
<rect x="66.75" y="214.05" width="3.5" height="3.5" fill="#fff" stroke="#26386b" stroke-width="1"/>
<rect x="71.35" y="214.25" width="3.5" height="3.5" fill="#fff" stroke="#26386b" stroke-width="1"/>
<rect x="76.45" y="220.25" width="3.5" height="3.5" fill="#fff" stroke="#26386b" stroke-width="1"/>
<rect x="85.45" y="225.85" width="3.5" height="3.5" fill="#fff" stroke="#26386b" stroke-width="1"/>
<rect x="96.75" y="214.75" width="3.5" height="3.5" fill="#fff" stroke="#26386b" stroke-width="1"/>
<rect x="107.45" y="216.25" width="3.5" height="3.5" fill="#fff" stroke="#26386b" stroke-width="1"/>
<rect x="118.75" y="214.75" width="3.5" height="3.5" fill="#fff" stroke="#26386b" stroke-width="1"/>
<rect x="129.45" y="204.75" width="3.5" height="3.5" fill="#fff" stroke="#26386b" stroke-width="1"/>
<rect x="140.85" y="208.65" width="3.5" height="3.5" fill="#fff" stroke="#26386b" stroke-width="1"/>
<rect x="152.05" y="207.05" width="3.5" height="3.5" fill="#fff" stroke="#26386b" stroke-width="1"/>
<rect x="39.55" y="206.95" width="4.5" height="4.5" fill="#26386b"/>
<rect x="43.95" y="238.75" width="4.5" height="4.5" fill="#26386b"/>
<rect x="48.55" y="234.25" width="4.5" height="4.5" fill="#26386b"/>
<rect x="53.45" y="221.95" width="4.5" height="4.5" fill="#26386b"/>
<rect x="58.55" y="220.45" width="4.5" height="4.5" fill="#26386b"/>
<rect x="66.25" y="211.55" width="4.5" height="4.5" fill="#26386b"/>
<rect x="70.85" y="218.15" width="4.5" height="4.5" fill="#26386b"/>
<rect x="75.95" y="221.25" width="4.5" height="4.5" fill="#26386b"/>
<rect x="84.95" y="220.45" width="4.5" height="4.5" fill="#26386b"/>
<rect x="96.25" y="220.75" width="4.5" height="4.5" fill="#26386b"/>
<rect x="106.95" y="214.75" width="4.5" height="4.5" fill="#26386b"/>
<rect x="118.25" y="211.95" width="4.5" height="4.5" fill="#26386b"/>
<rect x="128.95" y="212.75" width="4.5" height="4.5" fill="#26386b"/>
<rect x="140.35" y="208.95" width="4.5" height="4.5" fill="#26386b"/>
<rect x="151.55" y="209.75" width="4.5" height="4.5" fill="#26386b"/>
<text x="190" y="175.5" font-size="11.5" text-anchor="start" fill="#1a1a1a" font-weight="bold">E</text>
<text x="251.5" y="189.2" font-size="10" text-anchor="start" fill="#1a1a1a" font-weight="bold" textLength="54.8" lengthAdjust="spacingAndGlyphs">Serum IFNγ</text>
<line x1="228" y1="200.5" x2="228" y2="308.5" stroke="#111" stroke-width="1.5"/>
<line x1="225" y1="305.4" x2="228" y2="305.4" stroke="#111" stroke-width="1.5"/>
<text x="221.6" y="308.316" font-size="8.1" text-anchor="end" fill="#1a1a1a">0</text>
<line x1="225" y1="285.0" x2="228" y2="285.0" stroke="#111" stroke-width="1.5"/>
<text x="221.6" y="287.916" font-size="8.1" text-anchor="end" fill="#1a1a1a">20</text>
<line x1="225" y1="264.59999999999997" x2="228" y2="264.59999999999997" stroke="#111" stroke-width="1.5"/>
<text x="221.6" y="267.51599999999996" font-size="8.1" text-anchor="end" fill="#1a1a1a">40</text>
<line x1="225" y1="244.2" x2="228" y2="244.2" stroke="#111" stroke-width="1.5"/>
<text x="221.6" y="247.11599999999999" font-size="8.1" text-anchor="end" fill="#1a1a1a">60</text>
<line x1="225" y1="223.79999999999998" x2="228" y2="223.79999999999998" stroke="#111" stroke-width="1.5"/>
<text x="221.6" y="226.71599999999998" font-size="8.1" text-anchor="end" fill="#1a1a1a">80</text>
<line x1="225" y1="203.39999999999998" x2="228" y2="203.39999999999998" stroke="#111" stroke-width="1.5"/>
<text x="221.6" y="206.31599999999997" font-size="8.1" text-anchor="end" fill="#1a1a1a">100</text>
<line x1="228" y1="305.4" x2="325.4" y2="305.4" stroke="#111" stroke-width="1.5"/>
<line x1="244.3" y1="305.4" x2="244.3" y2="308.4" stroke="#111" stroke-width="1.5"/>
<text x="244.3" y="319.7" font-size="8.1" text-anchor="middle" fill="#1a1a1a">BM</text>
<line x1="279.2" y1="305.4" x2="279.2" y2="308.4" stroke="#111" stroke-width="1.5"/>
<text x="279.2" y="319.7" font-size="8.1" text-anchor="middle" fill="#1a1a1a">WT</text>
<line x1="313.1" y1="305.4" x2="313.1" y2="308.4" stroke="#111" stroke-width="1.5"/>
<text x="313.1" y="319.7" font-size="8.1" text-anchor="middle" fill="#1a1a1a">11KO</text>
<text transform="translate(201.6,252.9) rotate(-90)" font-size="10.4" text-anchor="middle" fill="#1a1a1a" textLength="22.4" lengthAdjust="spacingAndGlyphs">pg/ml</text>
<polyline points="279.2,213 279.2,206.6 313.1,206.6 313.1,213" fill="none" stroke="#111" stroke-width="1.3"/>
<circle cx="295.5" cy="202.29999999999998" r="1.2" fill="#111"/>
<rect x="277.0" y="236.60000000000002" width="4.4" height="4.4" fill="#26386b"/>
<rect x="270.40000000000003" y="265.8" width="4.4" height="4.4" fill="#26386b"/>
<rect x="283.2" y="260.90000000000003" width="4.4" height="4.4" fill="#26386b"/>
<rect x="277.5" y="265.8" width="4.4" height="4.4" fill="#26386b"/>
<rect x="270.8" y="275.3" width="4.4" height="4.4" fill="#26386b"/>
<rect x="276.8" y="278.5" width="4.4" height="4.4" fill="#26386b"/>
<rect x="283.2" y="276.40000000000003" width="4.4" height="4.4" fill="#26386b"/>
<polygon points="313.1,216.708 310.70000000000005,221.02800000000002 315.5,221.02800000000002" fill="#6da353"/>
<polygon points="313.1,225.808 310.70000000000005,230.12800000000001 315.5,230.12800000000001" fill="#6da353"/>
<polygon points="309.5,231.50799999999998 307.1,235.828 311.9,235.828" fill="#6da353"/>
<polygon points="316.5,235.808 314.1,240.12800000000001 318.9,240.12800000000001" fill="#6da353"/>
<polygon points="309.5,249.908 307.1,254.228 311.9,254.228" fill="#6da353"/>
<polygon points="316.5,249.908 314.1,254.228 318.9,254.228" fill="#6da353"/>
<polygon points="313.1,259.00800000000004 310.70000000000005,263.32800000000003 315.5,263.32800000000003" fill="#6da353"/>
<polygon points="313.1,271.708 310.70000000000005,276.028 315.5,276.028" fill="#6da353"/>
<circle cx="235.7" cy="298.7" r="2.3" fill="#a81538" stroke="#a81538" stroke-width="0.8"/>
<circle cx="242" cy="302" r="2.3" fill="#a81538" stroke="#a81538" stroke-width="0.8"/>
<circle cx="248" cy="300.5" r="2.3" fill="#a81538" stroke="#a81538" stroke-width="0.8"/>
<circle cx="253.5" cy="297.8" r="2.3" fill="#a81538" stroke="#a81538" stroke-width="0.8"/>
<line x1="268.2" y1="268" x2="290.4" y2="268" stroke="#111" stroke-width="1.5"/>
<line x1="279.45" y1="262.3" x2="279.45" y2="273.7" stroke="#111" stroke-width="1.5"/>
<line x1="275.4" y1="262.3" x2="283.5" y2="262.3" stroke="#111" stroke-width="1.5"/>
<line x1="275.4" y1="273.7" x2="283.5" y2="273.7" stroke="#111" stroke-width="1.5"/>
<line x1="301.4" y1="245.1" x2="324.7" y2="245.1" stroke="#111" stroke-width="1.5"/>
<line x1="313.04999999999995" y1="238.4" x2="313.04999999999995" y2="251" stroke="#111" stroke-width="1.5"/>
<line x1="308.4" y1="238.4" x2="317.7" y2="238.4" stroke="#111" stroke-width="1.5"/>
<line x1="308.4" y1="251" x2="317.7" y2="251" stroke="#111" stroke-width="1.5"/>
<line x1="238" y1="299.3" x2="253.8" y2="299.3" stroke="#111" stroke-width="1.5"/>
<line x1="246.0" y1="298.3" x2="246.0" y2="300.3" stroke="#111" stroke-width="1.5"/>
<line x1="242" y1="298.3" x2="250" y2="298.3" stroke="#111" stroke-width="1.5"/>
<line x1="242" y1="300.3" x2="250" y2="300.3" stroke="#111" stroke-width="1.5"/>
<text x="361.1" y="175.5" font-size="11.5" text-anchor="start" fill="#1a1a1a" font-weight="bold">F</text>
<text x="421.8" y="189.2" font-size="10" text-anchor="start" fill="#1a1a1a" font-weight="bold" textLength="53.2" lengthAdjust="spacingAndGlyphs">Serum TNF</text>
<line x1="398" y1="200.5" x2="398" y2="305.4" stroke="#111" stroke-width="1.5"/>
<line x1="395" y1="305.4" x2="398" y2="305.4" stroke="#111" stroke-width="1.5"/>
<text x="391.6" y="308.316" font-size="8.1" text-anchor="end" fill="#1a1a1a">0</text>
<line x1="395" y1="285.0" x2="398" y2="285.0" stroke="#111" stroke-width="1.5"/>
<text x="391.6" y="287.916" font-size="8.1" text-anchor="end" fill="#1a1a1a">50</text>
<line x1="395" y1="264.59999999999997" x2="398" y2="264.59999999999997" stroke="#111" stroke-width="1.5"/>
<text x="391.6" y="267.51599999999996" font-size="8.1" text-anchor="end" fill="#1a1a1a">100</text>
<line x1="395" y1="244.2" x2="398" y2="244.2" stroke="#111" stroke-width="1.5"/>
<text x="391.6" y="247.11599999999999" font-size="8.1" text-anchor="end" fill="#1a1a1a">150</text>
<line x1="395" y1="223.79999999999998" x2="398" y2="223.79999999999998" stroke="#111" stroke-width="1.5"/>
<text x="391.6" y="226.71599999999998" font-size="8.1" text-anchor="end" fill="#1a1a1a">200</text>
<line x1="395" y1="203.39999999999998" x2="398" y2="203.39999999999998" stroke="#111" stroke-width="1.5"/>
<text x="391.6" y="206.31599999999997" font-size="8.1" text-anchor="end" fill="#1a1a1a">250</text>
<line x1="398" y1="305.4" x2="495.4" y2="305.4" stroke="#111" stroke-width="1.5"/>
<line x1="414.3" y1="305.4" x2="414.3" y2="308.4" stroke="#111" stroke-width="1.5"/>
<text x="414.3" y="319.7" font-size="8.1" text-anchor="middle" fill="#1a1a1a">BM</text>
<line x1="449.2" y1="305.4" x2="449.2" y2="308.4" stroke="#111" stroke-width="1.5"/>
<text x="449.2" y="319.7" font-size="8.1" text-anchor="middle" fill="#1a1a1a">WT</text>
<line x1="483.1" y1="305.4" x2="483.1" y2="308.4" stroke="#111" stroke-width="1.5"/>
<text x="483.1" y="319.7" font-size="8.1" text-anchor="middle" fill="#1a1a1a">11KO</text>
<text transform="translate(372.4,252.6) rotate(-90)" font-size="10.4" text-anchor="middle" fill="#1a1a1a" textLength="22.7" lengthAdjust="spacingAndGlyphs">pg/ml</text>
<polyline points="447.5,212 447.5,204.5 483.1,204.5 483.1,212" fill="none" stroke="#111" stroke-width="1.3"/>
<circle cx="463.15000000000003" cy="200.2" r="1.2" fill="#111"/><circle cx="467.05" cy="200.2" r="1.2" fill="#111"/>
<rect x="441.3" y="264.7" width="4.4" height="4.4" fill="#26386b"/>
<rect x="447.3" y="264.7" width="4.4" height="4.4" fill="#26386b"/>
<rect x="452.8" y="262.2" width="4.4" height="4.4" fill="#26386b"/>
<rect x="437.8" y="275.8" width="4.4" height="4.4" fill="#26386b"/>
<rect x="456.0" y="274.2" width="4.4" height="4.4" fill="#26386b"/>
<rect x="445.3" y="280.0" width="4.4" height="4.4" fill="#26386b"/>
<rect x="450.3" y="278.5" width="4.4" height="4.4" fill="#26386b"/>
<polygon points="483.1,213.10799999999998 480.70000000000005,217.428 485.5,217.428" fill="#6da353"/>
<polygon points="483.1,226.208 480.70000000000005,230.52800000000002 485.5,230.52800000000002" fill="#6da353"/>
<polygon points="487,237.908 484.6,242.228 489.4,242.228" fill="#6da353"/>
<polygon points="479.4,242.10799999999998 477.0,246.428 481.79999999999995,246.428" fill="#6da353"/>
<polygon points="476.5,252.708 474.1,257.028 478.9,257.028" fill="#6da353"/>
<polygon points="489,252.708 486.6,257.028 491.4,257.028" fill="#6da353"/>
<polygon points="483.1,255.908 480.70000000000005,260.228 485.5,260.228" fill="#6da353"/>
<polygon points="483.1,271.108 480.70000000000005,275.428 485.5,275.428" fill="#6da353"/>
<circle cx="407.3" cy="297.6" r="2.3" fill="#a81538" stroke="#a81538" stroke-width="0.8"/>
<circle cx="412.1" cy="300.8" r="2.3" fill="#a81538" stroke="#a81538" stroke-width="0.8"/>
<circle cx="418.1" cy="297.6" r="2.3" fill="#a81538" stroke="#a81538" stroke-width="0.8"/>
<circle cx="423.5" cy="297.3" r="2.3" fill="#a81538" stroke="#a81538" stroke-width="0.8"/>
<line x1="438.2" y1="273.7" x2="460.9" y2="273.7" stroke="#111" stroke-width="1.5"/>
<line x1="448.75" y1="270.1" x2="448.75" y2="277.5" stroke="#111" stroke-width="1.5"/>
<line x1="444" y1="270.1" x2="453.5" y2="270.1" stroke="#111" stroke-width="1.5"/>
<line x1="444" y1="277.5" x2="453.5" y2="277.5" stroke="#111" stroke-width="1.5"/>
<line x1="471.4" y1="246.2" x2="494.7" y2="246.2" stroke="#111" stroke-width="1.5"/>
<line x1="482.75" y1="239.8" x2="482.75" y2="252.5" stroke="#111" stroke-width="1.5"/>
<line x1="477.8" y1="239.8" x2="487.7" y2="239.8" stroke="#111" stroke-width="1.5"/>
<line x1="477.8" y1="252.5" x2="487.7" y2="252.5" stroke="#111" stroke-width="1.5"/>
<line x1="408" y1="298.7" x2="423.8" y2="298.7" stroke="#111" stroke-width="1.5"/>
<line x1="416.0" y1="297.7" x2="416.0" y2="299.7" stroke="#111" stroke-width="1.5"/>
<line x1="412" y1="297.7" x2="420" y2="297.7" stroke="#111" stroke-width="1.5"/>
<line x1="412" y1="299.7" x2="420" y2="299.7" stroke="#111" stroke-width="1.5"/>
<text x="6.9" y="361" font-size="11.5" text-anchor="start" fill="#1a1a1a" font-weight="bold">G</text>
<text x="68" y="375.1" font-size="9.6" text-anchor="start" fill="#1a1a1a" font-weight="bold" textLength="79" lengthAdjust="spacingAndGlyphs">T-cell Expansion</text>
<line x1="41.25" y1="378.7" x2="41.25" y2="496.25" stroke="#111" stroke-width="1.5"/>
<line x1="38.25" y1="496.25" x2="41.25" y2="496.25" stroke="#111" stroke-width="1.5"/>
<text x="34.85" y="499.166" font-size="8.1" text-anchor="end" fill="#1a1a1a">0.0</text>
<line x1="38.25" y1="457.95" x2="41.25" y2="457.95" stroke="#111" stroke-width="1.5"/>
<text x="34.85" y="460.866" font-size="8.1" text-anchor="end" fill="#1a1a1a">0.5</text>
<line x1="38.25" y1="419.65" x2="41.25" y2="419.65" stroke="#111" stroke-width="1.5"/>
<text x="34.85" y="422.566" font-size="8.1" text-anchor="end" fill="#1a1a1a">1.0</text>
<line x1="38.25" y1="381.35" x2="41.25" y2="381.35" stroke="#111" stroke-width="1.5"/>
<text x="34.85" y="384.266" font-size="8.1" text-anchor="end" fill="#1a1a1a">1.5</text>
<line x1="41.25" y1="496.25" x2="152.3" y2="496.25" stroke="#111" stroke-width="1.5"/>
<line x1="59.5" y1="496.25" x2="59.5" y2="499.25" stroke="#111" stroke-width="1.5"/>
<text x="59.5" y="510.2" font-size="8.1" text-anchor="middle" fill="#1a1a1a">WT</text>
<line x1="86.25" y1="496.25" x2="86.25" y2="499.25" stroke="#111" stroke-width="1.5"/>
<text x="86.25" y="510.2" font-size="8.1" text-anchor="middle" fill="#1a1a1a">11KO</text>
<line x1="113" y1="496.25" x2="113" y2="499.25" stroke="#111" stroke-width="1.5"/>
<text x="113" y="510.2" font-size="8.1" text-anchor="middle" fill="#1a1a1a">WT</text>
<line x1="140" y1="496.25" x2="140" y2="499.25" stroke="#111" stroke-width="1.5"/>
<text x="140" y="510.2" font-size="8.1" text-anchor="middle" fill="#1a1a1a">11KO</text>
<line x1="49.2" y1="513.5" x2="97.7" y2="513.5" stroke="#111" stroke-width="1.2"/>
<line x1="105.8" y1="513.5" x2="150.8" y2="513.5" stroke="#111" stroke-width="1.2"/>
<text x="73.4" y="525" font-size="8.1" text-anchor="middle" fill="#1a1a1a">CD4+</text>
<text x="129.5" y="525" font-size="8.1" text-anchor="middle" fill="#1a1a1a">CD8+</text>
<text transform="translate(17.6,437.2) rotate(-90)" font-size="8.8" text-anchor="middle" fill="#1a1a1a">Cells (x10<tspan font-size="6.6" dy="-3.6">6</tspan><tspan dy="3.6">)</tspan></text>
<polyline points="57,398 57,389.5 84.5,389.5 84.5,398" fill="none" stroke="#111" stroke-width="1.3"/>
<circle cx="70.5" cy="385.2" r="1.2" fill="#111"/>
<polyline points="112.5,398 112.5,389.5 140,389.5 140,398" fill="none" stroke="#111" stroke-width="1.3"/>
<circle cx="125.75" cy="385.2" r="1.2" fill="#111"/>
<rect x="56.8" y="432.8" width="4.4" height="4.4" fill="#26386b"/>
<rect x="52.8" y="447.8" width="4.4" height="4.4" fill="#26386b"/>
<rect x="60.55" y="452.8" width="4.4" height="4.4" fill="#26386b"/>
<rect x="53.3" y="484.05" width="4.4" height="4.4" fill="#26386b"/>
<rect x="60.55" y="482.3" width="4.4" height="4.4" fill="#26386b"/>
<polygon points="86.25,402.408 83.85,406.728 88.65,406.728" fill="#6da353"/>
<polygon points="89.75,412.408 87.35,416.728 92.15,416.728" fill="#6da353"/>
<polygon points="82.5,418.658 80.1,422.978 84.9,422.978" fill="#6da353"/>
<polygon points="86.25,438.658 83.85,442.978 88.65,442.978" fill="#6da353"/>
<polygon points="86.25,446.908 83.85,451.228 88.65,451.228" fill="#6da353"/>
<rect x="110.8" y="415.8" width="4.4" height="4.4" fill="#26386b"/>
<rect x="110.8" y="434.8" width="4.4" height="4.4" fill="#26386b"/>
<rect x="110.8" y="456.55" width="4.4" height="4.4" fill="#26386b"/>
<rect x="107.3" y="484.8" width="4.4" height="4.4" fill="#26386b"/>
<rect x="114.05" y="482.3" width="4.4" height="4.4" fill="#26386b"/>
<polygon points="133.75,400.408 131.35,404.728 136.15,404.728" fill="#6da353"/>
<polygon points="145,403.658 142.6,407.978 147.4,407.978" fill="#6da353"/>
<polygon points="140,406.158 137.6,410.478 142.4,410.478" fill="#6da353"/>
<polygon points="140,416.158 137.6,420.478 142.4,420.478" fill="#6da353"/>
<polygon points="140,442.908 137.6,447.228 142.4,447.228" fill="#6da353"/>
<line x1="50.5" y1="462" x2="68.75" y2="462" stroke="#111" stroke-width="1.5"/>
<line x1="59.375" y1="452.5" x2="59.375" y2="472" stroke="#111" stroke-width="1.5"/>
<line x1="55" y1="452.5" x2="63.75" y2="452.5" stroke="#111" stroke-width="1.5"/>
<line x1="55" y1="472" x2="63.75" y2="472" stroke="#111" stroke-width="1.5"/>
<line x1="77.5" y1="426.25" x2="95.5" y2="426.25" stroke="#111" stroke-width="1.5"/>
<line x1="86.625" y1="417.5" x2="86.625" y2="434.5" stroke="#111" stroke-width="1.5"/>
<line x1="82" y1="417.5" x2="91.25" y2="417.5" stroke="#111" stroke-width="1.5"/>
<line x1="82" y1="434.5" x2="91.25" y2="434.5" stroke="#111" stroke-width="1.5"/>
<line x1="103.75" y1="457" x2="122" y2="457" stroke="#111" stroke-width="1.5"/>
<line x1="113.125" y1="443.75" x2="113.125" y2="470.5" stroke="#111" stroke-width="1.5"/>
<line x1="108.75" y1="443.75" x2="117.5" y2="443.75" stroke="#111" stroke-width="1.5"/>
<line x1="108.75" y1="470.5" x2="117.5" y2="470.5" stroke="#111" stroke-width="1.5"/>
<line x1="131.25" y1="415.75" x2="148.75" y2="415.75" stroke="#111" stroke-width="1.5"/>
<line x1="139.75" y1="408" x2="139.75" y2="423.75" stroke="#111" stroke-width="1.5"/>
<line x1="135" y1="408" x2="144.5" y2="408" stroke="#111" stroke-width="1.5"/>
<line x1="135" y1="423.75" x2="144.5" y2="423.75" stroke="#111" stroke-width="1.5"/>
<text x="189.6" y="361" font-size="11.5" text-anchor="start" fill="#1a1a1a" font-weight="bold">H</text>
<text x="255" y="374.9" font-size="9.6" text-anchor="start" fill="#1a1a1a" font-weight="bold" textLength="25.4" lengthAdjust="spacingAndGlyphs">IFNγ+</text>
<text x="291.4" y="374.9" font-size="9.6" text-anchor="start" fill="#1a1a1a" font-weight="bold" textLength="30" lengthAdjust="spacingAndGlyphs">T-cells</text>
<line x1="227.5" y1="381.5" x2="227.5" y2="496.25" stroke="#111" stroke-width="1.5"/>
<line x1="224.5" y1="496.25" x2="227.5" y2="496.25" stroke="#111" stroke-width="1.5"/>
<text x="221.1" y="499.166" font-size="8.1" text-anchor="end" fill="#1a1a1a">0.0</text>
<line x1="224.5" y1="473.9" x2="227.5" y2="473.9" stroke="#111" stroke-width="1.5"/>
<text x="221.1" y="476.816" font-size="8.1" text-anchor="end" fill="#1a1a1a">0.1</text>
<line x1="224.5" y1="451.55" x2="227.5" y2="451.55" stroke="#111" stroke-width="1.5"/>
<text x="221.1" y="454.466" font-size="8.1" text-anchor="end" fill="#1a1a1a">0.2</text>
<line x1="224.5" y1="429.2" x2="227.5" y2="429.2" stroke="#111" stroke-width="1.5"/>
<text x="221.1" y="432.116" font-size="8.1" text-anchor="end" fill="#1a1a1a">0.3</text>
<line x1="224.5" y1="406.85" x2="227.5" y2="406.85" stroke="#111" stroke-width="1.5"/>
<text x="221.1" y="409.766" font-size="8.1" text-anchor="end" fill="#1a1a1a">0.4</text>
<line x1="224.5" y1="384.5" x2="227.5" y2="384.5" stroke="#111" stroke-width="1.5"/>
<text x="221.1" y="387.416" font-size="8.1" text-anchor="end" fill="#1a1a1a">0.5</text>
<line x1="227.5" y1="496.25" x2="339.9" y2="496.25" stroke="#111" stroke-width="1.5"/>
<line x1="240.5" y1="496.25" x2="240.5" y2="499.25" stroke="#111" stroke-width="1.5"/>
<text x="240.5" y="510.2" font-size="8.1" text-anchor="middle" fill="#1a1a1a">WT</text>
<line x1="261.25" y1="496.25" x2="261.25" y2="499.25" stroke="#111" stroke-width="1.5"/>
<text x="261.25" y="510.2" font-size="8.1" text-anchor="middle" fill="#1a1a1a">11KO</text>
<line x1="305" y1="496.25" x2="305" y2="499.25" stroke="#111" stroke-width="1.5"/>
<text x="305" y="510.2" font-size="8.1" text-anchor="middle" fill="#1a1a1a">WT</text>
<line x1="326.25" y1="496.25" x2="326.25" y2="499.25" stroke="#111" stroke-width="1.5"/>
<text x="326.25" y="510.2" font-size="8.1" text-anchor="middle" fill="#1a1a1a">11KO</text>
<line x1="231.9" y1="513.5" x2="278.1" y2="513.5" stroke="#111" stroke-width="1.2"/>
<line x1="295.4" y1="513.5" x2="340.5" y2="513.5" stroke="#111" stroke-width="1.2"/>
<text x="253.9" y="525" font-size="8.1" text-anchor="middle" fill="#1a1a1a">CD4+</text>
<text x="318.5" y="525" font-size="8.1" text-anchor="middle" fill="#1a1a1a">CD8+</text>
<text transform="translate(203.3,438.9) rotate(-90)" font-size="8.8" text-anchor="middle" fill="#1a1a1a">Cells (x10<tspan font-size="6.6" dy="-3.6">6</tspan><tspan dy="3.6">)</tspan></text>
<polyline points="235.5,400 235.5,392 261.25,392 261.25,400" fill="none" stroke="#111" stroke-width="1.3"/>
<circle cx="248.75" cy="387.7" r="1.2" fill="#111"/>
<polyline points="301.25,396.25 301.25,388 327,388 327,396.25" fill="none" stroke="#111" stroke-width="1.3"/>
<circle cx="313.75" cy="383.7" r="1.2" fill="#111"/>
<rect x="238.3" y="434.05" width="4.4" height="4.4" fill="#26386b"/>
<rect x="238.3" y="454.05" width="4.4" height="4.4" fill="#26386b"/>
<rect x="238.3" y="468.3" width="4.4" height="4.4" fill="#26386b"/>
<rect x="234.3" y="484.05" width="4.4" height="4.4" fill="#26386b"/>
<rect x="242.3" y="484.05" width="4.4" height="4.4" fill="#26386b"/>
<polygon points="261.25,402.408 258.85,406.728 263.65,406.728" fill="#6da353"/>
<polygon points="257,433.658 254.6,437.978 259.4,437.978" fill="#6da353"/>
<polygon points="265.5,434.908 263.1,439.228 267.9,439.228" fill="#6da353"/>
<polygon points="261.25,427.408 258.85,431.728 263.65,431.728" fill="#6da353"/>
<polygon points="261.25,462.408 258.85,466.728 263.65,466.728" fill="#6da353"/>
<rect x="302.8" y="435.3" width="4.4" height="4.4" fill="#26386b"/>
<rect x="302.8" y="448.55" width="4.4" height="4.4" fill="#26386b"/>
<rect x="302.8" y="472.8" width="4.4" height="4.4" fill="#26386b"/>
<rect x="298.8" y="484.8" width="4.4" height="4.4" fill="#26386b"/>
<rect x="306.8" y="484.8" width="4.4" height="4.4" fill="#26386b"/>
<polygon points="322.5,396.908 320.1,401.228 324.9,401.228" fill="#6da353"/>
<polygon points="329.25,402.908 326.85,407.228 331.65,407.228" fill="#6da353"/>
<polygon points="326.25,426.158 323.85,430.478 328.65,430.478" fill="#6da353"/>
<polygon points="326.25,439.408 323.85,443.728 328.65,443.728" fill="#6da353"/>
<polygon points="326.25,461.908 323.85,466.228 328.65,466.228" fill="#6da353"/>
<line x1="232" y1="467" x2="249.5" y2="467" stroke="#111" stroke-width="1.5"/>
<line x1="241.0" y1="458" x2="241.0" y2="477" stroke="#111" stroke-width="1.5"/>
<line x1="237" y1="458" x2="245" y2="458" stroke="#111" stroke-width="1.5"/>
<line x1="237" y1="477" x2="245" y2="477" stroke="#111" stroke-width="1.5"/>
<line x1="252.5" y1="434.5" x2="270" y2="434.5" stroke="#111" stroke-width="1.5"/>
<line x1="260.875" y1="425.5" x2="260.875" y2="444" stroke="#111" stroke-width="1.5"/>
<line x1="256.25" y1="425.5" x2="265.5" y2="425.5" stroke="#111" stroke-width="1.5"/>
<line x1="256.25" y1="444" x2="265.5" y2="444" stroke="#111" stroke-width="1.5"/>
<line x1="296.25" y1="468" x2="314.5" y2="468" stroke="#111" stroke-width="1.5"/>
<line x1="305.375" y1="457.5" x2="305.375" y2="478" stroke="#111" stroke-width="1.5"/>
<line x1="301.25" y1="457.5" x2="309.5" y2="457.5" stroke="#111" stroke-width="1.5"/>
<line x1="301.25" y1="478" x2="309.5" y2="478" stroke="#111" stroke-width="1.5"/>
<line x1="316.25" y1="427.5" x2="334.5" y2="427.5" stroke="#111" stroke-width="1.5"/>
<line x1="325.0" y1="415.75" x2="325.0" y2="439.5" stroke="#111" stroke-width="1.5"/>
<line x1="320" y1="415.75" x2="330" y2="415.75" stroke="#111" stroke-width="1.5"/>
<line x1="320" y1="439.5" x2="330" y2="439.5" stroke="#111" stroke-width="1.5"/>
<text x="363" y="361" font-size="11.5" text-anchor="start" fill="#1a1a1a" font-weight="bold">I</text>
<text x="421" y="374.6" font-size="9.5" text-anchor="start" fill="#1a1a1a" font-weight="bold" textLength="74.3" lengthAdjust="spacingAndGlyphs">Liver Pathology</text>
<line x1="398.6" y1="388" x2="398.6" y2="496.1" stroke="#111" stroke-width="1.5"/>
<line x1="395.6" y1="496.1" x2="398.6" y2="496.1" stroke="#111" stroke-width="1.5"/>
<text x="392.20000000000005" y="499.016" font-size="8.1" text-anchor="end" fill="#1a1a1a">0</text>
<line x1="395.6" y1="474.96000000000004" x2="398.6" y2="474.96000000000004" stroke="#111" stroke-width="1.5"/>
<text x="392.20000000000005" y="477.87600000000003" font-size="8.1" text-anchor="end" fill="#1a1a1a">5</text>
<line x1="395.6" y1="453.82000000000005" x2="398.6" y2="453.82000000000005" stroke="#111" stroke-width="1.5"/>
<text x="392.20000000000005" y="456.73600000000005" font-size="8.1" text-anchor="end" fill="#1a1a1a">10</text>
<line x1="395.6" y1="432.68" x2="398.6" y2="432.68" stroke="#111" stroke-width="1.5"/>
<text x="392.20000000000005" y="435.596" font-size="8.1" text-anchor="end" fill="#1a1a1a">15</text>
<line x1="395.6" y1="411.54" x2="398.6" y2="411.54" stroke="#111" stroke-width="1.5"/>
<text x="392.20000000000005" y="414.456" font-size="8.1" text-anchor="end" fill="#1a1a1a">20</text>
<line x1="395.6" y1="390.40000000000003" x2="398.6" y2="390.40000000000003" stroke="#111" stroke-width="1.5"/>
<text x="392.20000000000005" y="393.31600000000003" font-size="8.1" text-anchor="end" fill="#1a1a1a">25</text>
<line x1="398.6" y1="496.1" x2="503.5" y2="496.1" stroke="#111" stroke-width="1.5"/>
<line x1="419.5" y1="496.1" x2="419.5" y2="499.1" stroke="#111" stroke-width="1.5"/>
<text x="419.5" y="510.8" font-size="8.1" text-anchor="middle" fill="#1a1a1a">BM</text>
<line x1="450.7" y1="496.1" x2="450.7" y2="499.1" stroke="#111" stroke-width="1.5"/>
<text x="450.7" y="510.8" font-size="8.1" text-anchor="middle" fill="#1a1a1a">WT</text>
<line x1="482.3" y1="496.1" x2="482.3" y2="499.1" stroke="#111" stroke-width="1.5"/>
<text x="482.3" y="510.8" font-size="8.1" text-anchor="middle" fill="#1a1a1a">11KO</text>
<text transform="translate(377.4,442.1) rotate(-90)" font-size="10" text-anchor="middle" fill="#1a1a1a" textLength="62.8" lengthAdjust="spacingAndGlyphs">Pathology score</text>
<polyline points="447.2,400.3 447.2,395.7 482.3,395.7 482.3,400.3" fill="none" stroke="#111" stroke-width="1.3"/>
<circle cx="464.3" cy="391.4" r="1.2" fill="#111"/>
<circle cx="416" cy="458.5" r="2.3" fill="#a81538" stroke="#a81538" stroke-width="0.8"/>
<circle cx="422" cy="454.3" r="2.3" fill="#a81538" stroke="#a81538" stroke-width="0.8"/>
<rect x="442.3" y="435.0" width="4.4" height="4.4" fill="#26386b"/>
<rect x="454.90000000000003" y="435.0" width="4.4" height="4.4" fill="#26386b"/>
<rect x="448.5" y="439.0" width="4.4" height="4.4" fill="#26386b"/>
<rect x="448.5" y="447.8" width="4.4" height="4.4" fill="#26386b"/>
<polygon points="478.8,406.208 476.40000000000003,410.528 481.2,410.528" fill="#6da353"/>
<polygon points="485.6,410.208 483.20000000000005,414.528 488.0,414.528" fill="#6da353"/>
<polygon points="478.8,427.00800000000004 476.40000000000003,431.32800000000003 481.2,431.32800000000003" fill="#6da353"/>
<polygon points="485.6,427.00800000000004 483.20000000000005,431.32800000000003 488.0,431.32800000000003" fill="#6da353"/>
<line x1="408.5" y1="456.6" x2="429.2" y2="456.6" stroke="#111" stroke-width="1.5"/>
<line x1="419.6" y1="454.5" x2="419.6" y2="458.7" stroke="#111" stroke-width="1.5"/>
<line x1="415" y1="454.5" x2="424.2" y2="454.5" stroke="#111" stroke-width="1.5"/>
<line x1="415" y1="458.7" x2="424.2" y2="458.7" stroke="#111" stroke-width="1.5"/>
<line x1="440.3" y1="441.9" x2="461.5" y2="441.9" stroke="#111" stroke-width="1.5"/>
<line x1="451.15" y1="439.5" x2="451.15" y2="445" stroke="#111" stroke-width="1.5"/>
<line x1="447.7" y1="439.5" x2="454.6" y2="439.5" stroke="#111" stroke-width="1.5"/>
<line x1="447.7" y1="445" x2="454.6" y2="445" stroke="#111" stroke-width="1.5"/>
<line x1="471.9" y1="419.7" x2="492.7" y2="419.7" stroke="#111" stroke-width="1.5"/>
<line x1="482.29999999999995" y1="414.2" x2="482.29999999999995" y2="425.2" stroke="#111" stroke-width="1.5"/>
<line x1="477.7" y1="414.2" x2="486.9" y2="414.2" stroke="#111" stroke-width="1.5"/>
<line x1="477.7" y1="425.2" x2="486.9" y2="425.2" stroke="#111" stroke-width="1.5"/>
<text x="8.2" y="551.7" font-size="11.5" text-anchor="start" fill="#1a1a1a" font-weight="bold">J</text>
<text x="69.8" y="564.9" font-size="9.5" text-anchor="start" fill="#1a1a1a" font-weight="bold" textLength="52.3" lengthAdjust="spacingAndGlyphs">Liver CD8+</text>
<text x="71.6" y="576.3" font-size="9.5" text-anchor="start" fill="#1a1a1a" font-weight="bold" textLength="48.5" lengthAdjust="spacingAndGlyphs">Infiltration</text>
<line x1="41.5" y1="584" x2="41.5" y2="692.7" stroke="#111" stroke-width="1.5"/>
<line x1="38.5" y1="692.7" x2="41.5" y2="692.7" stroke="#111" stroke-width="1.5"/>
<text x="35.1" y="695.6160000000001" font-size="8.1" text-anchor="end" fill="#1a1a1a">0</text>
<line x1="38.5" y1="671.24" x2="41.5" y2="671.24" stroke="#111" stroke-width="1.5"/>
<text x="35.1" y="674.1560000000001" font-size="8.1" text-anchor="end" fill="#1a1a1a">10</text>
<line x1="38.5" y1="649.7800000000001" x2="41.5" y2="649.7800000000001" stroke="#111" stroke-width="1.5"/>
<text x="35.1" y="652.6960000000001" font-size="8.1" text-anchor="end" fill="#1a1a1a">20</text>
<line x1="38.5" y1="628.32" x2="41.5" y2="628.32" stroke="#111" stroke-width="1.5"/>
<text x="35.1" y="631.2360000000001" font-size="8.1" text-anchor="end" fill="#1a1a1a">30</text>
<line x1="38.5" y1="606.86" x2="41.5" y2="606.86" stroke="#111" stroke-width="1.5"/>
<text x="35.1" y="609.7760000000001" font-size="8.1" text-anchor="end" fill="#1a1a1a">40</text>
<line x1="38.5" y1="585.4000000000001" x2="41.5" y2="585.4000000000001" stroke="#111" stroke-width="1.5"/>
<text x="35.1" y="588.3160000000001" font-size="8.1" text-anchor="end" fill="#1a1a1a">50</text>
<line x1="41.5" y1="692.7" x2="143.6" y2="692.7" stroke="#111" stroke-width="1.5"/>
<line x1="72.2" y1="692.7" x2="72.2" y2="695.7" stroke="#111" stroke-width="1.5"/>
<text x="72.2" y="706" font-size="8.1" text-anchor="middle" fill="#1a1a1a">WT</text>
<line x1="118.4" y1="692.7" x2="118.4" y2="695.7" stroke="#111" stroke-width="1.5"/>
<text x="118.4" y="706" font-size="8.1" text-anchor="middle" fill="#1a1a1a">11KO</text>
<text transform="translate(21.8,635.7) rotate(-90)" font-size="9.2" text-anchor="middle" textLength="91.3" lengthAdjust="spacingAndGlyphs" fill="#1a1a1a">CD8+ T-cell count (x10<tspan font-size="6.4" dy="-3.6">4</tspan><tspan dy="3.6">)</tspan></text>
<polyline points="72.2,594.6 72.2,589.3 118.4,589.3 118.4,594.6" fill="none" stroke="#111" stroke-width="1.3"/>
<circle cx="95.3" cy="585.0" r="1.2" fill="#111"/>
<rect x="67.3" y="647.8" width="4.4" height="4.4" fill="#26386b"/>
<rect x="74.0" y="654.0" width="4.4" height="4.4" fill="#26386b"/>
<rect x="67.3" y="667.9" width="4.4" height="4.4" fill="#26386b"/>
<rect x="74.0" y="665.5999999999999" width="4.4" height="4.4" fill="#26386b"/>
<polygon points="118.4,600.1080000000001 116.0,604.428 120.80000000000001,604.428" fill="#6da353"/>
<polygon points="118.4,616.708 116.0,621.0279999999999 120.80000000000001,621.0279999999999" fill="#6da353"/>
<polygon points="115.4,641.6080000000001 113.0,645.928 117.80000000000001,645.928" fill="#6da353"/>
<polygon points="122.3,640.508 119.89999999999999,644.828 124.7,644.828" fill="#6da353"/>
<line x1="57.7" y1="661.5" x2="87.2" y2="661.5" stroke="#111" stroke-width="1.5"/>
<line x1="71.75" y1="656.2" x2="71.75" y2="665.5" stroke="#111" stroke-width="1.5"/>
<line x1="64.6" y1="656.2" x2="78.9" y2="656.2" stroke="#111" stroke-width="1.5"/>
<line x1="64.6" y1="665.5" x2="78.9" y2="665.5" stroke="#111" stroke-width="1.5"/>
<line x1="104.3" y1="627.4" x2="133.9" y2="627.4" stroke="#111" stroke-width="1.5"/>
<line x1="118.85" y1="617.2" x2="118.85" y2="637.3" stroke="#111" stroke-width="1.5"/>
<line x1="111.2" y1="617.2" x2="126.5" y2="617.2" stroke="#111" stroke-width="1.5"/>
<line x1="111.2" y1="637.3" x2="126.5" y2="637.3" stroke="#111" stroke-width="1.5"/>
<text x="189.4" y="551.6" font-size="11.5" text-anchor="start" fill="#1a1a1a" font-weight="bold">K</text>
<text x="257.6" y="563.9" font-size="9.6" text-anchor="start" fill="#1a1a1a" font-weight="bold" textLength="52.3" lengthAdjust="spacingAndGlyphs">Liver CD8+</text>
<text x="237.4" y="576.0" font-size="9.6" text-anchor="start" fill="#1a1a1a" font-weight="bold" textLength="92.1" lengthAdjust="spacingAndGlyphs">EOMES Expression</text>
<line x1="227.5" y1="583" x2="227.5" y2="659.5" stroke="#111" stroke-width="1.5"/>
<line x1="224.2" y1="585.33" x2="227.5" y2="585.33" stroke="#111" stroke-width="1.5"/>
<text x="221.4" y="588.33" font-size="8.3" text-anchor="end" fill="#1a1a1a">3000</text>
<line x1="224.2" y1="608.415" x2="227.5" y2="608.415" stroke="#111" stroke-width="1.5"/>
<text x="221.4" y="611.415" font-size="8.3" text-anchor="end" fill="#1a1a1a">2500</text>
<line x1="224.2" y1="631.5" x2="227.5" y2="631.5" stroke="#111" stroke-width="1.5"/>
<text x="221.4" y="634.5" font-size="8.3" text-anchor="end" fill="#1a1a1a">2000</text>
<line x1="224.2" y1="654.585" x2="227.5" y2="654.585" stroke="#111" stroke-width="1.5"/>
<text x="221.4" y="657.585" font-size="8.3" text-anchor="end" fill="#1a1a1a">1500</text>
<line x1="227.5" y1="668" x2="227.5" y2="692.7" stroke="#111" stroke-width="1.5"/>
<line x1="224.2" y1="674.3" x2="227.5" y2="674.3" stroke="#111" stroke-width="1.5"/>
<text x="221.4" y="677.3" font-size="8.3" text-anchor="end" fill="#1a1a1a">1000</text>
<line x1="224.2" y1="692.7" x2="227.5" y2="692.7" stroke="#111" stroke-width="1.5"/>
<text x="221.4" y="695.7" font-size="8.3" text-anchor="end" fill="#1a1a1a">0</text>
<line x1="225.4" y1="658.6" x2="230.4" y2="663.2" stroke="#111" stroke-width="1.4"/>
<line x1="225.4" y1="665.6" x2="230.4" y2="670.2" stroke="#111" stroke-width="1.4"/>
<line x1="227.7" y1="692.7" x2="330.4" y2="692.7" stroke="#111" stroke-width="1.5"/>
<line x1="258.4" y1="692.7" x2="258.4" y2="695.7" stroke="#111" stroke-width="1.5"/>
<text x="258.4" y="706.5" font-size="8.1" text-anchor="middle" fill="#1a1a1a">WT</text>
<line x1="304.5" y1="692.7" x2="304.5" y2="695.7" stroke="#111" stroke-width="1.5"/>
<text x="304.5" y="706.5" font-size="8.1" text-anchor="middle" fill="#1a1a1a">11KO</text>
<text transform="translate(197.1,637.7) rotate(-90)" font-size="10" text-anchor="middle" fill="#1a1a1a" textLength="43" lengthAdjust="spacingAndGlyphs">Eomes MFI</text>
<polyline points="258.4,592.3 258.4,587.7 304.5,587.7 304.5,592.3" fill="none" stroke="#111" stroke-width="1.3"/>
<circle cx="281.9" cy="583.4000000000001" r="1.2" fill="#111"/>
<rect x="252.3" y="617.0999999999999" width="4.4" height="4.4" fill="#26386b"/>
<rect x="259.40000000000003" y="615.5" width="4.4" height="4.4" fill="#26386b"/>
<rect x="256.2" y="628.5999999999999" width="4.4" height="4.4" fill="#26386b"/>
<rect x="256.2" y="635.0999999999999" width="4.4" height="4.4" fill="#26386b"/>
<polygon points="300.2,601.208 297.8,605.5279999999999 302.59999999999997,605.5279999999999" fill="#6da353"/>
<polygon points="309.6,599.6080000000001 307.20000000000005,603.928 312.0,603.928" fill="#6da353"/>
<polygon points="304.5,604.708 302.1,609.0279999999999 306.9,609.0279999999999" fill="#6da353"/>
<polygon points="304.5,612.1080000000001 302.1,616.428 306.9,616.428" fill="#6da353"/>
<line x1="243.2" y1="626.2" x2="273.9" y2="626.2" stroke="#111" stroke-width="1.5"/>
<line x1="258.65" y1="621.6" x2="258.65" y2="630.8" stroke="#111" stroke-width="1.5"/>
<line x1="251.5" y1="621.6" x2="265.8" y2="621.6" stroke="#111" stroke-width="1.5"/>
<line x1="251.5" y1="630.8" x2="265.8" y2="630.8" stroke="#111" stroke-width="1.5"/>
<line x1="289.3" y1="606.2" x2="320" y2="606.2" stroke="#111" stroke-width="1.5"/>
<line x1="304.75" y1="603.8" x2="304.75" y2="609.2" stroke="#111" stroke-width="1.5"/>
<line x1="297.6" y1="603.8" x2="311.9" y2="603.8" stroke="#111" stroke-width="1.5"/>
<line x1="297.6" y1="609.2" x2="311.9" y2="609.2" stroke="#111" stroke-width="1.5"/>
<text x="361.1" y="551.6" font-size="11.5" text-anchor="start" fill="#1a1a1a" font-weight="bold">L</text>
<text x="423.5" y="563.9" font-size="9.6" text-anchor="start" fill="#1a1a1a" font-weight="bold" textLength="60.5" lengthAdjust="spacingAndGlyphs">Spleen CD8+</text>
<text x="407.8" y="576.0" font-size="9.6" text-anchor="start" fill="#1a1a1a" font-weight="bold" textLength="92.2" lengthAdjust="spacingAndGlyphs">EOMES Expression</text>
<line x1="397.7" y1="583" x2="397.7" y2="659.5" stroke="#111" stroke-width="1.5"/>
<line x1="394.7" y1="585.3000000000001" x2="397.7" y2="585.3000000000001" stroke="#111" stroke-width="1.5"/>
<text x="392" y="588.3000000000001" font-size="8.3" text-anchor="end" fill="#1a1a1a">3500</text>
<line x1="394.7" y1="614.2" x2="397.7" y2="614.2" stroke="#111" stroke-width="1.5"/>
<text x="392" y="617.2" font-size="8.3" text-anchor="end" fill="#1a1a1a">3000</text>
<line x1="394.7" y1="643.1" x2="397.7" y2="643.1" stroke="#111" stroke-width="1.5"/>
<text x="392" y="646.1" font-size="8.3" text-anchor="end" fill="#1a1a1a">2500</text>
<line x1="397.7" y1="668.5" x2="397.7" y2="692.7" stroke="#111" stroke-width="1.5"/>
<line x1="394.7" y1="680.7" x2="397.7" y2="680.7" stroke="#111" stroke-width="1.5"/>
<text x="392" y="683.7" font-size="8.3" text-anchor="end" fill="#1a1a1a">1000</text>
<line x1="394.7" y1="692.7" x2="397.7" y2="692.7" stroke="#111" stroke-width="1.5"/>
<text x="392" y="695.7" font-size="8.3" text-anchor="end" fill="#1a1a1a">0</text>
<line x1="395.6" y1="658.6" x2="400.8" y2="662.8" stroke="#111" stroke-width="1.4"/>
<line x1="395.6" y1="665.6" x2="400.8" y2="670.2" stroke="#111" stroke-width="1.4"/>
<line x1="397.7" y1="692.7" x2="501" y2="692.7" stroke="#111" stroke-width="1.5"/>
<line x1="428.8" y1="692.7" x2="428.8" y2="695.7" stroke="#111" stroke-width="1.5"/>
<text x="428.8" y="706.5" font-size="8.1" text-anchor="middle" fill="#1a1a1a">WT</text>
<line x1="475" y1="692.7" x2="475" y2="695.7" stroke="#111" stroke-width="1.5"/>
<text x="475" y="706.5" font-size="8.1" text-anchor="middle" fill="#1a1a1a">11KO</text>
<text transform="translate(367.7,634.4) rotate(-90)" font-size="10" text-anchor="middle" fill="#1a1a1a" textLength="43" lengthAdjust="spacingAndGlyphs">Eomes MFI</text>
<polyline points="428.8,591.6 428.8,586.5 475,586.5 475,591.6" fill="none" stroke="#111" stroke-width="1.3"/>
<circle cx="452.4" cy="582.2" r="1.2" fill="#111"/>
<rect x="426.6" y="629.3" width="4.4" height="4.4" fill="#26386b"/>
<rect x="422.3" y="643.1999999999999" width="4.4" height="4.4" fill="#26386b"/>
<rect x="430.7" y="646.1999999999999" width="4.4" height="4.4" fill="#26386b"/>
<rect x="426.6" y="653.5999999999999" width="4.4" height="4.4" fill="#26386b"/>
<polygon points="475,603.6080000000001 472.6,607.928 477.4,607.928" fill="#6da353"/>
<polygon points="470.6,619.708 468.20000000000005,624.0279999999999 473.0,624.0279999999999" fill="#6da353"/>
<polygon points="479.3,619.708 476.90000000000003,624.0279999999999 481.7,624.0279999999999" fill="#6da353"/>
<polygon points="475,638.208 472.6,642.5279999999999 477.4,642.5279999999999" fill="#6da353"/>
<line x1="413.8" y1="645.4" x2="444.5" y2="645.4" stroke="#111" stroke-width="1.5"/>
<line x1="428.85" y1="640.8" x2="428.85" y2="650.7" stroke="#111" stroke-width="1.5"/>
<line x1="421.5" y1="640.8" x2="436.2" y2="640.8" stroke="#111" stroke-width="1.5"/>
<line x1="421.5" y1="650.7" x2="436.2" y2="650.7" stroke="#111" stroke-width="1.5"/>
<line x1="459.3" y1="623" x2="490" y2="623" stroke="#111" stroke-width="1.5"/>
<line x1="475.0" y1="616.1" x2="475.0" y2="629.9" stroke="#111" stroke-width="1.5"/>
<line x1="467.6" y1="616.1" x2="482.4" y2="616.1" stroke="#111" stroke-width="1.5"/>
<line x1="467.6" y1="629.9" x2="482.4" y2="629.9" stroke="#111" stroke-width="1.5"/>
</svg></body></html>
